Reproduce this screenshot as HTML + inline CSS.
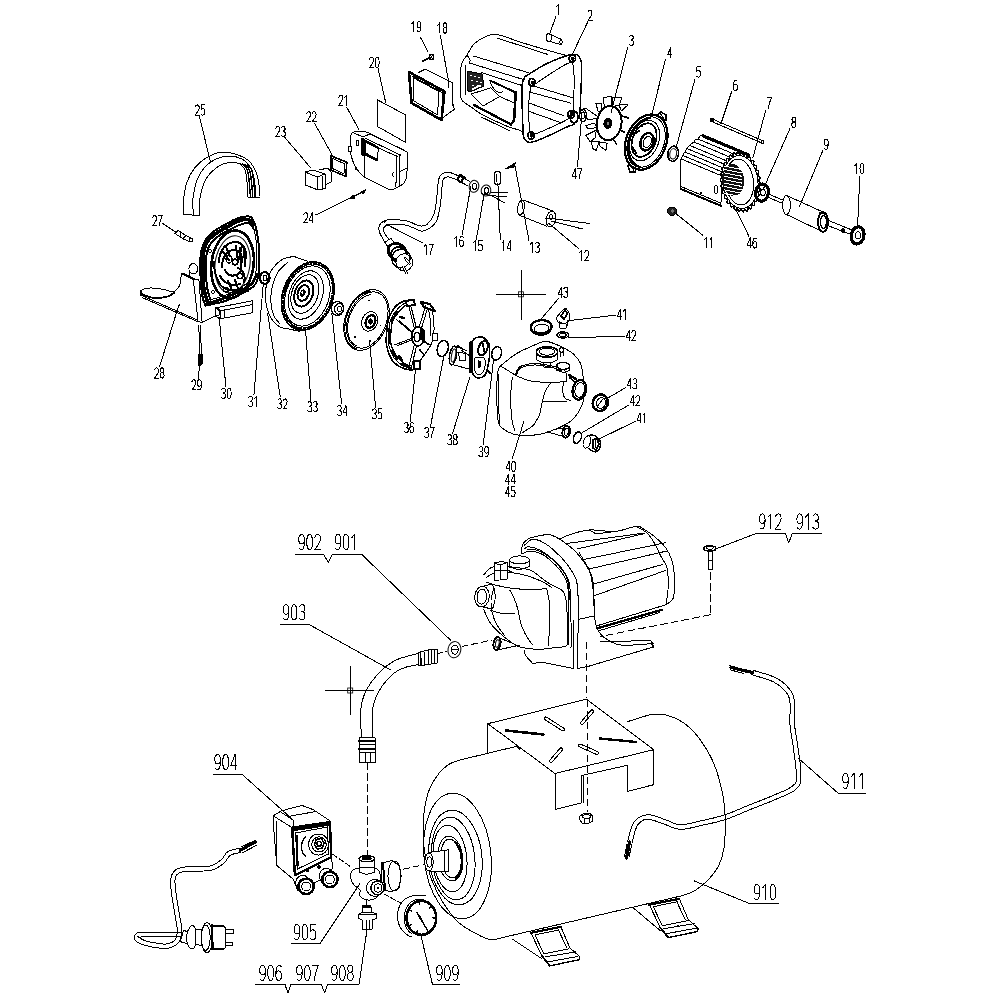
<!DOCTYPE html>
<html><head><meta charset="utf-8"><style>
html,body{margin:0;padding:0;background:#fff;width:1002px;height:1002px;overflow:hidden;font-family:"Liberation Sans",sans-serif;}
svg{display:block}
</style></head><body>
<svg width="1002" height="1002" viewBox="0 0 1002 1002" stroke-linecap="round" shape-rendering="crispEdges">
<rect x="0" y="0" width="1002" height="1002" fill="#fff"/>
<path d="M183.7,214.3 C183.7,211.9 182.9,205.4 183.5,200 C184.1,194.6 185.1,187.4 187,182 C188.9,176.6 191.7,171.8 194.9,167.8 C198.1,163.8 201.5,160.6 206,158 C210.5,155.4 216.6,152.6 221.9,152.1 C227.2,151.6 233.3,153.3 238,155 C242.7,156.7 246.8,158.7 250,162 C253.2,165.3 255.4,170.3 257,175 C258.6,179.7 259.1,186.4 259.6,190 C260.1,193.6 259.9,195.2 260,196.3" fill="none" stroke="#000" stroke-width="1.0" stroke-linejoin="round" />
<path d="M193.4,215.7 C193.3,212.8 192.4,203.9 193,198 C193.6,192.1 195,185.2 197,180 C199,174.8 201.8,170.5 205,167 C208.2,163.5 212,160.8 216,159 C220,157.2 224.7,156 229,156 C233.3,156 238.5,157.2 242,159 C245.5,160.8 247.9,163.5 250,167 C252.1,170.5 253.6,175.2 254.5,180 C255.4,184.8 255.3,193.3 255.5,196" fill="none" stroke="#000" stroke-width="1.0" stroke-linejoin="round" />
<path d="M199.4,215.7 C199.5,212.8 199.2,203.4 200,198 C200.8,192.6 202.3,187 204,183 C205.7,179 207.4,176.6 209.9,173.8 C212.4,171 215.8,167.9 219,166 C222.2,164.1 225.8,163 229.3,162.6 C232.8,162.2 238.1,163.3 239.8,163.4" fill="none" stroke="#000" stroke-width="1.0" stroke-linejoin="round" />
<line x1="183.7" y1="214.3" x2="199.4" y2="215.7" stroke="#000" stroke-width="1.0"/>
<path d="M239.8,163.4 C240.7,164.5 243.8,166.9 245,170 C246.2,173.1 246.5,177.5 247,182 C247.5,186.5 247.8,194.5 248,197" fill="none" stroke="#000" stroke-width="1.0" stroke-linejoin="round" />
<path d="M242.3,163.9 C243.1,164.9 246.1,167 247.2,170 C248.4,173 248.7,177.5 249.2,182 C249.8,186.5 250.2,194.5 250.4,197" fill="none" stroke="#000" stroke-width="1.4" stroke-linejoin="round" />
<path d="M244.8,164.4 C245.6,165.3 248.4,167.1 249.5,170 C250.6,172.9 251,177.5 251.5,182 C252,186.5 252.5,194.5 252.8,197" fill="none" stroke="#000" stroke-width="1.4" stroke-linejoin="round" />
<path d="M247.3,164.9 C248,165.8 250.7,167.2 251.8,170 C252.8,172.8 253.2,177.5 253.8,182 C254.3,186.5 254.9,194.5 255.1,197" fill="none" stroke="#000" stroke-width="1.4" stroke-linejoin="round" />
<line x1="248" y1="197" x2="260" y2="197" stroke="#000" stroke-width="1.0"/>
<polygon points="174.9,233.5 178,230.5 186,235.5 183,238.8" fill="none" stroke="#000" stroke-width="1.0" stroke-linejoin="round"/>
<line x1="180.5" y1="233" x2="180" y2="237" stroke="#000" stroke-width="1.0"/>
<line x1="186" y1="235.5" x2="191.5" y2="238.5" stroke="#000" stroke-width="1.0"/>
<line x1="183" y1="238.8" x2="189.5" y2="241.5" stroke="#000" stroke-width="1.0"/>
<ellipse cx="191" cy="240" rx="1.5" ry="1.8" fill="none" stroke="#000" stroke-width="1.0"/>
<path d="M140.6,291.1 C141.5,290.6 143.5,288.8 146.2,288.3 C148.9,287.8 153.4,288 156.6,288.3 C159.8,288.6 162.5,289.3 165.3,289.9 C168.1,290.5 171.2,292.2 173.3,291.9 C175.4,291.6 176.9,289.6 178.1,288 C179.3,286.4 180,284.7 180.5,282.4 C181,280.1 180.9,275.9 181.3,274.4 C181.7,272.9 182.6,273.7 182.9,273.6" fill="none" stroke="#000" stroke-width="1.0" stroke-linejoin="round" />
<path d="M140.6,293.5 C142.3,294.2 147.9,296.8 151,297.5 C154.1,298.2 156.1,298.1 159,297.9 C161.9,297.7 166,297.2 168.5,296.3 C171,295.4 173.2,293.3 174.1,292.7" fill="none" stroke="#000" stroke-width="1.8" stroke-linejoin="round" />
<line x1="140.6" y1="291.1" x2="140.6" y2="295" stroke="#000" stroke-width="2.0"/>
<line x1="140.6" y1="295.1" x2="197.3" y2="319.9" stroke="#000" stroke-width="1.0"/>
<line x1="142" y1="297.5" x2="197.5" y2="321.5" stroke="#000" stroke-width="1.0"/>
<line x1="182.9" y1="273.6" x2="194.1" y2="279.2" stroke="#000" stroke-width="2.0"/>
<line x1="193.3" y1="279.2" x2="198.1" y2="321.5" stroke="#000" stroke-width="1.0"/>
<line x1="198.9" y1="279.2" x2="202.1" y2="322.3" stroke="#000" stroke-width="1.0"/>
<line x1="194.1" y1="279.2" x2="199" y2="279.2" stroke="#000" stroke-width="1.0"/>
<ellipse cx="193.3" cy="268.8" rx="4.4" ry="5.2" fill="#fff" stroke="#000" stroke-width="1.0"/>
<line x1="189.5" y1="271" x2="190" y2="276" stroke="#000" stroke-width="1.0"/>
<line x1="197.3" y1="321.5" x2="202.1" y2="322.3" stroke="#000" stroke-width="1.0"/>
<line x1="202.1" y1="322.3" x2="215" y2="315.9" stroke="#000" stroke-width="1.0"/>
<ellipse cx="178.9" cy="305.5" rx="0.7" ry="0.9" fill="#000" stroke="#000" stroke-width="0"/>
<path d="M205.6,305.6 C207.2,305.2 211.6,304.3 215,303.5 C218.4,302.7 221.5,302.4 225.9,300.8 C230.3,299.2 236.9,296 241.5,293.6 C246.1,291.2 250.7,289.2 253.5,286.4 C256.3,283.6 257.3,281.5 258.3,276.9 C259.3,272.3 259.5,264.9 259.5,258.9 C259.5,252.9 259,246.5 258.3,240.9 C257.6,235.3 256.4,229.1 255.3,225.4 C254.2,221.7 253.1,220 252,218.5 C250.9,217 251,216.5 248.7,216.4 C246.3,216.3 241.7,216.9 237.9,218.2 C234.1,219.5 229.9,222 225.9,224.2 C221.9,226.4 217.4,228.7 214,231.3 C210.6,233.9 207.7,236.5 205.6,239.7 C203.5,242.9 202.3,246.3 201.4,250.5 C200.5,254.7 200.2,258.5 200.2,264.9 C200.2,271.3 200.9,283.1 201.4,288.8 C201.9,294.5 202.3,296.2 203,299 C203.7,301.8 205.2,304.5 205.6,305.6" fill="#fff" stroke="#000" stroke-width="2.0" stroke-linejoin="round" />
<path d="M207.5,302 C206.9,299.7 204.6,294.2 203.8,288 C203,281.8 202.8,271.2 202.8,265 C202.8,258.8 203,255 203.8,251 C204.6,247 205.8,243.9 207.8,241 C209.8,238.1 212.8,235.8 216,233.5 C219.2,231.2 223.2,229.1 227,227 C230.8,224.9 235,222.2 238.5,221 C242,219.8 245.6,219 248,219.5 C250.4,220 252.2,223.2 253,224" fill="none" stroke="#000" stroke-width="3.6" stroke-linejoin="round" />
<path d="M210.5,300 C209.9,297.8 207.8,292.8 207,287 C206.2,281.2 206,270.8 206,265 C206,259.2 206.2,255.7 207,252 C207.8,248.3 209.1,245.7 211,243 C212.9,240.3 215.5,238.2 218.5,236 C221.5,233.8 225.5,231.8 229,230 C232.5,228.2 236.2,226.2 239.5,225 C242.8,223.8 246.7,222.3 249,223 C251.3,223.7 252.8,228 253.5,229" fill="none" stroke="#000" stroke-width="2.0" stroke-linejoin="round" />
<path d="M207,303.5 C209.5,302.8 216.5,301.1 222,299 C227.5,296.9 235,293.6 240,291 C245,288.4 249.2,286.3 252,283.5 C254.8,280.7 255.8,275.6 256.5,274" fill="none" stroke="#000" stroke-width="2.6" stroke-linejoin="round" />
<path d="M211,299.5 C213.3,298.8 220.2,297.4 225,295.5 C229.8,293.6 235.8,290.4 240,288 C244.2,285.6 248.3,282.2 250,281" fill="none" stroke="#000" stroke-width="1.0" stroke-linejoin="round" />
<path d="M253,224 C253.5,226.7 255.4,234 256,240 C256.6,246 256.9,254 256.8,260 C256.7,266 255.7,273.3 255.5,276" fill="none" stroke="#000" stroke-width="1.0" stroke-linejoin="round" />
<ellipse cx="232.5" cy="264.3" rx="21" ry="34" fill="none" stroke="#000" stroke-width="2.6" transform="rotate(8 232.5 264.3)"/>
<ellipse cx="232.5" cy="264.3" rx="17.4" ry="28.7" fill="none" stroke="#000" stroke-width="1.0" transform="rotate(8 232.5 264.3)"/>
<path d="M219,262 C219,250 226,243 234,242 C242,241 247,249 246,258" fill="none" stroke="#000" stroke-width="2.0" stroke-linejoin="round" />
<path d="M222,267 C222,256 228,250 234,250 C240,250 243,256 242,262" fill="none" stroke="#000" stroke-width="2.0" stroke-linejoin="round" />
<path d="M225,270 C227,276 235,278 240,272" fill="none" stroke="#000" stroke-width="2.0" stroke-linejoin="round" />
<path d="M236,246 L238,262 L242,246" fill="none" stroke="#000" stroke-width="2.0" stroke-linejoin="round" />
<path d="M240,248 L241,268" fill="none" stroke="#000" stroke-width="2.0" stroke-linejoin="round" />
<path d="M244,250 L245,266" fill="none" stroke="#000" stroke-width="2.0" stroke-linejoin="round" />
<path d="M220,276 C224,283 232,287 240,284" fill="none" stroke="#000" stroke-width="2.0" stroke-linejoin="round" />
<path d="M218,281 C222,290 232,293 242,288" fill="none" stroke="#000" stroke-width="2.0" stroke-linejoin="round" />
<path d="M228,281 L232,290 M235,280 L238,288" fill="none" stroke="#000" stroke-width="2.0" stroke-linejoin="round" />
<path d="M223,252 L229,260 M226,247 L230,256" fill="none" stroke="#000" stroke-width="2.0" stroke-linejoin="round" />
<path d="M238,268 C243,270 246,276 244,282" fill="none" stroke="#000" stroke-width="2.0" stroke-linejoin="round" />
<path d="M214,262 C214,270 216,278 220,284" fill="none" stroke="#000" stroke-width="2.0" stroke-linejoin="round" />
<ellipse cx="229" cy="259" rx="3" ry="4" fill="none" stroke="#000" stroke-width="1.4"/>
<ellipse cx="235" cy="262" rx="2.5" ry="3" fill="none" stroke="#000" stroke-width="1.4"/>
<ellipse cx="240" cy="276" rx="3" ry="2.5" fill="none" stroke="#000" stroke-width="1.4"/>
<ellipse cx="226" cy="290" rx="2.6" ry="2" fill="none" stroke="#000" stroke-width="1.4"/>
<ellipse cx="249.5" cy="222.5" rx="1.4" ry="1.6" fill="none" stroke="#000" stroke-width="1.0"/>
<ellipse cx="210" cy="251" rx="1.4" ry="1.6" fill="none" stroke="#000" stroke-width="1.0"/>
<ellipse cx="213" cy="292" rx="1.4" ry="1.6" fill="none" stroke="#000" stroke-width="1.0"/>
<ellipse cx="247.5" cy="290" rx="1.4" ry="1.6" fill="none" stroke="#000" stroke-width="1.0"/>
<ellipse cx="226" cy="228.5" rx="1.4" ry="1.6" fill="none" stroke="#000" stroke-width="1.0"/>
<polygon points="215.1,308 252.3,300.8 252.3,312.8 220,318.8 215.1,316" fill="#fff" stroke="#000" stroke-width="1.0" stroke-linejoin="round"/>
<line x1="215.1" y1="308" x2="220" y2="311" stroke="#000" stroke-width="1.0"/>
<line x1="220" y1="311" x2="220" y2="318.8" stroke="#000" stroke-width="1.0"/>
<line x1="220" y1="311" x2="252.3" y2="304.5" stroke="#000" stroke-width="1.0"/>
<line x1="224.5" y1="310" x2="224.8" y2="318" stroke="#000" stroke-width="1.0"/>
<ellipse cx="217.5" cy="312" rx="2.4" ry="3.5" fill="none" stroke="#000" stroke-width="1.0"/>
<line x1="198.7" y1="325" x2="200" y2="354" stroke="#000" stroke-width="1.0"/>
<line x1="200.2" y1="325" x2="201.5" y2="354" stroke="#000" stroke-width="1.0"/>
<polygon points="198.5,354 202.3,354 202,364 199,366" fill="#000" stroke="#000" stroke-width="1.0" stroke-linejoin="round"/>
<ellipse cx="264.8" cy="278" rx="4.8" ry="6" fill="none" stroke="#000" stroke-width="2.0"/>
<ellipse cx="265" cy="278" rx="2" ry="2.6" fill="none" stroke="#000" stroke-width="1.0"/>
<polyline points="418.7,72.4 425.4,69.1 452.4,82.9 453.1,106.8 454.6,109.1 443.4,117.3" fill="none" stroke="#000" stroke-width="1.0" stroke-linejoin="round"/>
<line x1="448.5" y1="80.5" x2="448.5" y2="87" stroke="#000" stroke-width="1.6"/>
<line x1="452.5" y1="100" x2="452.5" y2="106" stroke="#000" stroke-width="1.0"/>
<polygon points="409,72 444.5,91.5 441.5,120 411.5,103" fill="#fff" stroke="#000" stroke-width="2.6" stroke-linejoin="round"/>
<line x1="411" y1="74" x2="446" y2="93" stroke="#000" stroke-width="1.0"/>
<line x1="412" y1="76" x2="444" y2="93.5" stroke="#000" stroke-width="1.0"/>
<polygon points="413,77.5 439,91.5 437.5,115 414,101" fill="none" stroke="#000" stroke-width="1.0" stroke-linejoin="round"/>
<line x1="443" y1="93" x2="441" y2="119" stroke="#000" stroke-width="1.0"/>
<line x1="422.4" y1="61.2" x2="430" y2="57.5" stroke="#000" stroke-width="1.6"/>
<ellipse cx="431.5" cy="57" rx="2.2" ry="2.6" fill="none" stroke="#000" stroke-width="1.6"/>
<ellipse cx="431.5" cy="57" rx="0.8" ry="1" fill="#000" stroke="#000" stroke-width="0"/>
<polygon points="377.1,99.7 405.6,114.9 405.6,142.4 377.1,126.3" fill="none" stroke="#000" stroke-width="1.0" stroke-linejoin="round"/>
<path d="M351.2,133.6 C352,133.2 353.9,131.5 356,131.2 C358.1,130.9 361.6,131.2 364,131.6 C366.4,132 366.3,131.8 370.3,133.6 C374.3,135.4 382.1,139.6 388,142.5 C393.9,145.4 402.2,149.1 405.5,151.1 C408.8,153.1 407.2,152.4 407.5,154.3 C407.8,156.2 407.2,158.7 407.1,162.3 C407,165.9 407.2,172.4 406.7,175.9 C406.2,179.4 405.7,181.1 403.9,183.1 C402.1,185.1 398.3,186.8 395.9,187.9 C393.5,189 392.8,190.3 389.5,189.5 C386.2,188.7 380.2,185.1 376,183 C371.8,180.9 367.3,179.2 364,176.7 C360.7,174.2 358.1,171.4 356,167.9 C353.9,164.4 352.2,159.9 351.2,155.9 C350.2,151.9 350,147.7 350,144 C350,140.3 351,135.3 351.2,133.6" fill="#fff" stroke="#000" stroke-width="1.0" stroke-linejoin="round" />
<polyline points="353.6,132.8 362.4,136.8 370.3,134" fill="none" stroke="#000" stroke-width="1.0" stroke-linejoin="round"/>
<line x1="365.5" y1="138.4" x2="400.7" y2="155.1" stroke="#000" stroke-width="1.0"/>
<line x1="378.3" y1="147.9" x2="397.5" y2="156.7" stroke="#000" stroke-width="1.0"/>
<line x1="370.3" y1="134" x2="407.1" y2="151.9" stroke="#000" stroke-width="1.0"/>
<line x1="364" y1="139" x2="364" y2="175.9" stroke="#000" stroke-width="1.0"/>
<line x1="362.5" y1="139" x2="362.8" y2="155" stroke="#000" stroke-width="2.8"/>
<polygon points="365.5,140.8 378.3,147.9 377.5,159.9 365.5,155.1" fill="none" stroke="#000" stroke-width="1.0" stroke-linejoin="round"/>
<line x1="366" y1="141.5" x2="377.5" y2="147.5" stroke="#000" stroke-width="2.6" stroke-dasharray="1.2 0.9"/>
<line x1="364.5" y1="153.5" x2="377" y2="160" stroke="#000" stroke-width="2.8" stroke-dasharray="1.3 0.9"/>
<line x1="396.7" y1="155.9" x2="395.9" y2="187.1" stroke="#000" stroke-width="1.0"/>
<line x1="399.1" y1="155.1" x2="399.1" y2="185.5" stroke="#000" stroke-width="1.0"/>
<line x1="399.1" y1="172" x2="406.7" y2="168" stroke="#000" stroke-width="1.0"/>
<polygon points="356,140 358.4,140 358.4,145.5 356,145.5" fill="none" stroke="#000" stroke-width="1.0" stroke-linejoin="round"/>
<polygon points="348.8,146.3 351.2,146.3 351.2,151.9 348.8,151.9" fill="#fff" stroke="#000" stroke-width="1.0" stroke-linejoin="round"/>
<ellipse cx="356" cy="168.7" rx="1.3" ry="1.6" fill="#000" stroke="#000" stroke-width="0"/>
<path d="M394,172.5 C391.5,173 391.5,176 394,176.5" fill="none" stroke="#000" stroke-width="1.0" stroke-linejoin="round" />
<polygon points="330.7,155.7 346.8,162.3 345.8,176.5 330.7,169.9" fill="none" stroke="#000" stroke-width="1.6" stroke-linejoin="round"/>
<polygon points="332.6,158.5 344.5,163.8 344,174 332.5,168.5" fill="none" stroke="#000" stroke-width="1.0" stroke-linejoin="round"/>
<polygon points="305,172 313,170 325,174 325.5,188 318,190 305.5,185" fill="#fff" stroke="#000" stroke-width="1.0" stroke-linejoin="round"/>
<polyline points="305,172 317,177 318,190" fill="none" stroke="#000" stroke-width="1.0" stroke-linejoin="round"/>
<line x1="313" y1="170" x2="325" y2="174" stroke="#000" stroke-width="1.0"/>
<line x1="317" y1="177" x2="325" y2="174" stroke="#000" stroke-width="1.0"/>
<polyline points="319,170 328,168 331,172 331,182 325.5,185" fill="none" stroke="#000" stroke-width="1.0" stroke-linejoin="round"/>
<line x1="322.5" y1="177" x2="322.5" y2="189" stroke="#000" stroke-width="1.6"/>
<polygon points="361,192 366,189.5 363,194" fill="#000" stroke="#000" stroke-width="1.0" stroke-linejoin="round"/>
<polygon points="350,198 354,195 354.5,198.5" fill="#000" stroke="#000" stroke-width="1.0" stroke-linejoin="round"/>
<path d="M387.5,246.1 C387,245.3 386.5,245 384.9,242.2 C383.3,239.4 380.5,235.3 379.4,231.9 C378.3,228.5 378.6,227.5 379.4,225.4 C380.2,223.3 381.2,222.4 383.6,221.2 C386,220 388.3,219.5 391.4,219.2 C394.5,218.9 395.7,219.4 399.2,219.9 C402.7,220.4 405,220.3 408.9,221.5 C412.8,222.7 415.4,224.9 418.6,225.7 C421.8,226.5 422.9,226.2 425.1,225.4 C427.3,224.6 427.9,223.8 429.7,221.5 C431.5,219.2 432.6,218.3 434,214 C435.4,209.7 435.7,205.6 436.5,200 C437.3,194.4 437.2,190.6 437.8,186 C438.4,181.4 438.3,179.6 439.5,177 C440.7,174.4 441.9,173.9 444,173 C446.1,172.1 446.9,171.8 450,172.5 C453.1,173.2 455.7,174.7 459.7,176.5 C463.7,178.3 467.9,180.5 470,181.5" fill="none" stroke="#000" stroke-width="1.0" stroke-linejoin="round" />
<path d="M392.7,242.2 C391.5,241.2 388.7,239.3 386.9,237 C385.1,234.7 384.1,232.6 383.6,230.6 C383.1,228.6 383.1,228.2 384.3,227 C385.5,225.8 385.6,225.2 389.5,224.7 C393.4,224.2 398.5,223.9 403.7,224.7 C408.9,225.5 411.8,227.3 415.4,228.6 C419,229.9 419,231.3 421.9,231.2 C424.8,231.1 426.9,229.8 429.7,228 C432.5,226.2 434,225.6 436,222 C438,218.4 438.4,215.4 439.5,210 C440.6,204.6 440.9,200.6 441.5,195 C442.1,189.4 441.9,185.4 442.5,182 C443.1,178.6 443.2,179 444.5,178 C445.8,177 446.3,176.5 449,177 C451.7,177.5 454.2,178.7 458,180.5 C461.8,182.3 466,184.9 468,186" fill="none" stroke="#000" stroke-width="1.0" stroke-linejoin="round" />
<ellipse cx="384.5" cy="221.5" rx="1.2" ry="1.5" fill="#000" stroke="#000" stroke-width="0"/>
<polygon points="384.9,242.2 390.8,238.3 394,242.2 388,246.5" fill="#fff" stroke="#000" stroke-width="1.0" stroke-linejoin="round"/>
<ellipse cx="397.5" cy="252" rx="9.8" ry="8" fill="#fff" stroke="#000" stroke-width="2.6" transform="rotate(35 397.5 252)"/>
<ellipse cx="399.5" cy="255" rx="8.6" ry="7.8" fill="none" stroke="#000" stroke-width="1.8" stroke-dasharray="1.2 1" transform="rotate(35 399.5 255)"/>
<ellipse cx="404.3" cy="262.4" rx="8.4" ry="8.6" fill="#fff" stroke="#000" stroke-width="1.0"/>
<ellipse cx="401" cy="258.5" rx="9" ry="9.5" fill="none" stroke="#000" stroke-width="1.4" transform="rotate(35 401 258.5)"/>
<line x1="405" y1="258" x2="409.5" y2="263.5" stroke="#000" stroke-width="2.6"/>
<line x1="405" y1="258" x2="409.5" y2="263.5" stroke="#fff" stroke-width="1.0"/>
<line x1="403.5" y1="267" x2="406.5" y2="273" stroke="#000" stroke-width="2.6"/>
<line x1="403.5" y1="267" x2="406.5" y2="273" stroke="#fff" stroke-width="1.0"/>
<ellipse cx="460.5" cy="178.5" rx="2.2" ry="3.4" fill="none" stroke="#000" stroke-width="2.0" transform="rotate(15 460.5 178.5)"/>
<line x1="461" y1="175.5" x2="466" y2="178" stroke="#000" stroke-width="1.4"/>
<line x1="460" y1="181.8" x2="465" y2="184" stroke="#000" stroke-width="1.4"/>
<path d="M568,56 C564.2,54.9 553,51.8 545,49.5 C537,47.2 528,44.5 520,42 C512,39.5 502.7,35.3 496.9,34.5 C491.1,33.7 488.8,35.4 485,37 C481.2,38.6 477,41 474,44 C471,47 469.1,51.6 467,55 C464.9,58.4 462.4,60.4 461.4,64.6 C460.4,68.8 460.9,74.7 460.8,80 C460.7,85.3 460.2,93 460.6,96.5 C461,100 461.3,99.6 463,101.3 C464.7,103 467.9,104.8 471,106.9 C474.1,109 475.7,111 481.3,114.1 C486.9,117.1 498.2,122.5 504.5,125.2 C510.8,127.9 515.7,128.9 518.8,130 C521.9,131.1 522.3,131.7 523,132" fill="none" stroke="#000" stroke-width="1.0" stroke-linejoin="round" />
<line x1="465.4" y1="65.4" x2="465.4" y2="94.1" stroke="#000" stroke-width="1.0"/>
<path d="M467,55 C467.5,55.8 469.6,58.7 470,60 C470.4,61.3 469.5,62.5 469.4,63" fill="none" stroke="#000" stroke-width="1.0" stroke-linejoin="round" />
<line x1="469.4" y1="63" x2="525" y2="80" stroke="#000" stroke-width="1.0"/>
<line x1="473.4" y1="56" x2="531" y2="73.5" stroke="#000" stroke-width="1.0"/>
<line x1="481.3" y1="72.6" x2="522" y2="85.5" stroke="#000" stroke-width="1.0"/>
<line x1="497" y1="38" x2="548" y2="54.5" stroke="#000" stroke-width="1.0"/>
<path d="M524.9,76.7 C528.8,74.4 539.9,66.7 548,63 C556.1,59.3 568.3,54.8 573.8,54.3 C579.2,53.8 579.4,57.4 580.7,60 C582,62.6 581.5,63.3 581.5,70 C581.5,76.7 580.9,92.4 580.5,100 C580.1,107.6 580.5,111.8 579.4,115.8 C578.3,119.8 576.1,122.1 574,124 C571.9,125.9 571.1,125 566.8,127 C562.5,129 554,133.4 548,136 C542,138.6 534.5,142.1 530.5,142.4 C526.5,142.7 525.2,140.1 524,138 C522.8,135.9 523.3,136.3 523,130 C522.7,123.7 522.2,107.5 522,100 C521.8,92.5 521.5,88.9 522,85 C522.5,81.1 524.4,78.1 524.9,76.7" fill="none" stroke="#000" stroke-width="1.5" stroke-linejoin="round" />
<path d="M531,87 C534.2,84.8 543.7,78 550,74 C556.3,70 565.1,64 569,63 C572.9,62 572.7,63.5 573.5,68 C574.3,72.5 574.1,82.7 574,90 C573.9,97.3 574,107.2 573,112 C572,116.8 572.7,116 568,119 C563.3,122 550.8,127.5 545,130 C539.2,132.5 535.6,134.3 533,134 C530.4,133.7 530.2,133.7 529.5,128 C528.8,122.3 528.8,106.8 529,100 C529.2,93.2 530.7,89.2 531,87" fill="none" stroke="#000" stroke-width="1.0" stroke-linejoin="round" />
<line x1="530.5" y1="85" x2="572.4" y2="97.7" stroke="#000" stroke-width="1.0"/>
<line x1="529.5" y1="92" x2="571" y2="103.2" stroke="#000" stroke-width="1.0"/>
<line x1="529.5" y1="103.2" x2="564" y2="115.8" stroke="#000" stroke-width="1.0"/>
<line x1="529.5" y1="111.6" x2="561.2" y2="122.8" stroke="#000" stroke-width="1.0"/>
<path d="M467,71 L482,74 L484,86 L470,92 L467,90 Z" fill="#222" stroke="#000" stroke-width="1"/>
<rect x="470" y="75" width="1.6" height="1.4" fill="#fff"/>
<rect x="474" y="76" width="1.6" height="1.4" fill="#fff"/>
<rect x="478" y="77" width="1.6" height="1.4" fill="#fff"/>
<rect x="471" y="80" width="1.6" height="1.4" fill="#fff"/>
<rect x="476" y="81" width="1.6" height="1.4" fill="#fff"/>
<rect x="472" y="85" width="1.6" height="1.4" fill="#fff"/>
<rect x="477" y="84.5" width="1.6" height="1.4" fill="#fff"/>
<rect x="480" y="82" width="1.6" height="1.4" fill="#fff"/>
<path d="M472.5,89.5 C473.1,89.2 474.8,88.1 476,87.5 C477.2,86.9 479.3,86.2 480,86" fill="none" stroke="#fff" stroke-width="1.8" stroke-linejoin="round" />
<polyline points="490.1,80.5 515.7,92.5 514.1,120.4 510.9,124.4 473.4,104.5" fill="none" stroke="#000" stroke-width="1.0" stroke-linejoin="round"/>
<line x1="515.7" y1="92.5" x2="514.1" y2="120.4" stroke="#000" stroke-width="2.6"/>
<line x1="514.1" y1="120.4" x2="510.9" y2="124.4" stroke="#000" stroke-width="2.6"/>
<line x1="510.9" y1="124.4" x2="474" y2="105" stroke="#000" stroke-width="2.4"/>
<line x1="490.1" y1="80.5" x2="515.7" y2="92.5" stroke="#000" stroke-width="2.0"/>
<polygon points="471,94.1 490.9,87.7 499.7,96.5 482.9,106.1" fill="none" stroke="#000" stroke-width="1.0" stroke-linejoin="round"/>
<path d="M490,82 C490.7,83.2 492.3,87.2 494,89 C495.7,90.8 498.5,92.7 500,93 C501.5,93.3 502.5,91.3 503,91" fill="none" stroke="#000" stroke-width="1.0" stroke-linejoin="round" />
<line x1="499.7" y1="96.5" x2="514" y2="103" stroke="#000" stroke-width="1.0"/>
<line x1="481.3" y1="117" x2="510" y2="131" stroke="#000" stroke-width="1.0"/>
<ellipse cx="572.4" cy="58.5" rx="3.2" ry="3.8" fill="none" stroke="#000" stroke-width="1.8"/>
<ellipse cx="572.9" cy="58.8" rx="1.3" ry="1.6" fill="#000" stroke="#000" stroke-width="1.0"/>
<ellipse cx="531.8" cy="82.3" rx="3.2" ry="3.8" fill="none" stroke="#000" stroke-width="1.8"/>
<ellipse cx="532.3" cy="82.6" rx="1.3" ry="1.6" fill="#000" stroke="#000" stroke-width="1.0"/>
<ellipse cx="571" cy="114.4" rx="3.2" ry="3.8" fill="none" stroke="#000" stroke-width="1.8"/>
<ellipse cx="571.5" cy="114.7" rx="1.3" ry="1.6" fill="#000" stroke="#000" stroke-width="1.0"/>
<ellipse cx="531.2" cy="135.4" rx="3.2" ry="3.8" fill="none" stroke="#000" stroke-width="1.8"/>
<ellipse cx="531.7" cy="135.7" rx="1.3" ry="1.6" fill="#000" stroke="#000" stroke-width="1.0"/>
<ellipse cx="574" cy="117" rx="4" ry="6" fill="none" stroke="#000" stroke-width="1.6"/>
<ellipse cx="548.8" cy="37.5" rx="2.6" ry="3.8" fill="none" stroke="#000" stroke-width="1.0"/>
<line x1="549.5" y1="34" x2="561.5" y2="39.5" stroke="#000" stroke-width="1.0"/>
<line x1="549" y1="41.2" x2="560.5" y2="44.5" stroke="#000" stroke-width="1.0"/>
<ellipse cx="561" cy="42" rx="1.2" ry="2.3" fill="none" stroke="#000" stroke-width="1.0"/>
<polygon points="603.3,97.4 611.1,96.5 611.5,105.8 604.6,108.8" fill="#fff" stroke="#000" stroke-width="1.0" stroke-linejoin="round"/>
<polygon points="612,97 621.5,97.8 619.4,105.6 612.6,106.2" fill="#fff" stroke="#000" stroke-width="1.0" stroke-linejoin="round"/>
<polygon points="618.9,104.9 628,104.9 621.5,110.8" fill="#fff" stroke="#000" stroke-width="1.0" stroke-linejoin="round"/>
<polygon points="595.6,103 601.4,103 601.4,112.7 598.2,111.4" fill="#fff" stroke="#000" stroke-width="1.0" stroke-linejoin="round"/>
<polygon points="582,109.5 585.8,108.2 599.5,117.9 587.8,119.8" fill="#fff" stroke="#000" stroke-width="1.0" stroke-linejoin="round"/>
<polygon points="585.8,125.7 594.3,123.1 596.9,127.6 587.8,128.9" fill="#fff" stroke="#000" stroke-width="1.0" stroke-linejoin="round"/>
<polygon points="585.8,135.4 596.2,130.2 595.6,137.3 590.4,141.9" fill="#fff" stroke="#000" stroke-width="1.0" stroke-linejoin="round"/>
<polygon points="591.7,141.9 599.5,141.2 596.2,150.3 592.3,148.4" fill="#fff" stroke="#000" stroke-width="1.0" stroke-linejoin="round"/>
<polygon points="599.5,141.9 607.2,143.2 605.9,150.3 600.1,146.4" fill="#fff" stroke="#000" stroke-width="1.0" stroke-linejoin="round"/>
<line x1="621.5" y1="116" x2="628.6" y2="117.9" stroke="#000" stroke-width="1.8"/>
<line x1="620.2" y1="130.2" x2="624.7" y2="132.2" stroke="#000" stroke-width="1.6"/>
<line x1="612.4" y1="138" x2="616.3" y2="143.8" stroke="#000" stroke-width="1.5"/>
<ellipse cx="609.2" cy="123.1" rx="12.3" ry="17.2" fill="#fff" stroke="#000" stroke-width="2.0" transform="rotate(8 609.2 123.1)"/>
<ellipse cx="607.9" cy="123.4" rx="4.5" ry="5.5" fill="#000" stroke="#000" stroke-width="0" transform="rotate(8 607.9 123.4)"/>
<ellipse cx="608.2" cy="123.4" rx="1.3" ry="1.6" fill="#888" stroke="#000" stroke-width="0"/>
<polygon points="657,115 661,112 666,115 666,120 661,121" fill="#fff" stroke="#000" stroke-width="1.6" stroke-linejoin="round"/>
<line x1="660" y1="113" x2="664" y2="119" stroke="#000" stroke-width="1.0"/>
<polygon points="628,166 632,163.5 636.7,166 635,172.2 630,172" fill="#fff" stroke="#000" stroke-width="1.6" stroke-linejoin="round"/>
<line x1="631" y1="165" x2="634" y2="171" stroke="#000" stroke-width="1.0"/>
<ellipse cx="646.1" cy="142.1" rx="20" ry="28.6" fill="#fff" stroke="#000" stroke-width="2.2" transform="rotate(22 646.1 142.1)"/>
<ellipse cx="646.1" cy="142.1" rx="17.8" ry="26.2" fill="none" stroke="#000" stroke-width="1.0" transform="rotate(22 646.1 142.1)"/>
<path d="M650,118 C638,120 629,132 628.5,146 C628,158 633,165 640,167" fill="none" stroke="#000" stroke-width="2.4" stroke-dasharray="1.4 1"/>
<ellipse cx="644.6" cy="140.6" rx="14" ry="21" fill="none" stroke="#000" stroke-width="1.0" transform="rotate(22 644.6 140.6)"/>
<ellipse cx="644.1" cy="140.1" rx="11.5" ry="17.5" fill="none" stroke="#000" stroke-width="1.8" transform="rotate(22 644.1 140.1)"/>
<ellipse cx="647" cy="141.7" rx="6.3" ry="9" fill="none" stroke="#000" stroke-width="2.4" transform="rotate(22 647 141.7)"/>
<ellipse cx="647.3" cy="141.9" rx="3.8" ry="5.8" fill="none" stroke="#000" stroke-width="1.0" transform="rotate(22 647.3 141.9)"/>
<line x1="634" y1="134" x2="639" y2="131" stroke="#000" stroke-width="2.0"/>
<line x1="633" y1="148" x2="636" y2="153" stroke="#000" stroke-width="2.0"/>
<line x1="637" y1="128" x2="642" y2="126" stroke="#000" stroke-width="1.6"/>
<line x1="703" y1="135.5" x2="749" y2="154.8" stroke="#000" stroke-width="2.6"/>
<line x1="698" y1="139" x2="744" y2="158.3" stroke="#000" stroke-width="1.0"/>
<line x1="694" y1="142" x2="734" y2="158.8" stroke="#000" stroke-width="1.0"/>
<line x1="690" y1="145.5" x2="730" y2="162.3" stroke="#000" stroke-width="1.0"/>
<line x1="687" y1="148.5" x2="727" y2="165.3" stroke="#000" stroke-width="1.0"/>
<line x1="685" y1="152" x2="725" y2="168.8" stroke="#000" stroke-width="1.0"/>
<line x1="683" y1="155.5" x2="723" y2="172.3" stroke="#000" stroke-width="1.0"/>
<line x1="703" y1="136.5" x2="749" y2="155.5" stroke="#000" stroke-width="2.2" stroke-dasharray="1.5 0.8"/>
<polyline points="703,135.5 700,136 698,139 695,140 694,142 690,144.5 690,145.5 687,147.5 687,148.5 685,151 685,152 683,154 683,155.5 681,158.9" fill="none" stroke="#000" stroke-width="1.0" stroke-linejoin="round"/>
<polygon points="681,158.9 721.9,175.9 720.9,205.8 680.5,188.9" fill="#fff" stroke="#000" stroke-width="1.0" stroke-linejoin="round"/>
<line x1="680.5" y1="188.9" x2="720.9" y2="205.8" stroke="#000" stroke-width="2.0"/>
<line x1="681" y1="186.5" x2="720.9" y2="203.2" stroke="#000" stroke-width="1.0"/>
<path d="M759,182 L759,183.5 L760.2,185.1 L760.1,186.7 L758.6,187.8 L758.4,189.2 L759.3,191.3 L759,192.7 L757.4,193.4 L757,194.7 L757.6,197 L757.1,198.3 L755.5,198.5 L754.9,199.6 L755.2,202 L754.5,203.2 L752.9,202.8 L752.1,203.8 L752.1,206.2 L751.3,207.1 L749.8,206.2 L748.9,206.9 L748.6,209.4 L747.6,210 L746.2,208.6 L745.3,209 L744.6,211.3 L743.6,211.6 L742.4,209.8 L741.5,210 L740.5,212 L739.5,211.9 L738.6,209.8 L737.6,209.7 L736.4,211.3 L735.4,210.9 L734.8,208.6 L733.9,208.1 L732.4,209.4 L731.5,208.7 L731.2,206.2 L730.4,205.5 L728.9,206.2 L728,205.3 L728.1,202.8 L727.4,201.8 L725.8,202 L725.1,200.9 L725.5,198.5 L725,197.2 L723.4,197 L722.9,195.6 L723.6,193.4 L723.2,192 L721.7,191.3 L721.4,189.8 L722.4,187.8 L722.2,186.4 L720.8,185.1 L720.7,183.6 L722,182 L722,180.5 L720.8,178.9 L720.9,177.3 L722.4,176.2 L722.6,174.8 L721.7,172.7 L722,171.3 L723.6,170.6 L724,169.3 L723.4,167 L723.9,165.7 L725.5,165.5 L726.1,164.4 L725.8,162 L726.5,160.8 L728.1,161.2 L728.9,160.2 L728.9,157.8 L729.7,156.9 L731.2,157.8 L732.1,157.1 L732.4,154.6 L733.4,154 L734.8,155.4 L735.7,155 L736.4,152.7 L737.4,152.4 L738.6,154.2 L739.5,154 L740.5,152 L741.5,152.1 L742.4,154.2 L743.4,154.3 L744.6,152.7 L745.6,153.1 L746.2,155.4 L747.1,155.9 L748.6,154.6 L749.5,155.3 L749.8,157.8 L750.6,158.5 L752.1,157.8 L753,158.7 L752.9,161.2 L753.6,162.2 L755.2,162 L755.9,163.1 L755.5,165.5 L756,166.8 L757.6,167 L758.1,168.4 L757.4,170.6 L757.8,172 L759.3,172.7 L759.6,174.2 L758.6,176.2 L758.8,177.6 L760.2,178.9 L760.3,180.4 Z" fill="#fff" stroke="#000" stroke-width="1.4" stroke-linejoin="round" transform="rotate(-6 740.5 182)"/>
<ellipse cx="740.5" cy="182" rx="17.5" ry="26.5" fill="none" stroke="#000" stroke-width="1.0" transform="rotate(-6 740.5 182)"/>
<ellipse cx="739.5" cy="182" rx="14" ry="23" fill="none" stroke="#000" stroke-width="1.0" transform="rotate(-6 739.5 182)"/>
<ellipse cx="733" cy="180" rx="11" ry="16" fill="#111" stroke="#000" stroke-width="0" transform="rotate(-6 733 180)"/>
<line x1="724" y1="166" x2="742" y2="169.5" stroke="#fff" stroke-width="1.0"/>
<line x1="724" y1="169.4" x2="742" y2="172.9" stroke="#fff" stroke-width="1.0"/>
<line x1="724" y1="172.8" x2="742" y2="176.3" stroke="#fff" stroke-width="1.0"/>
<line x1="724" y1="176.2" x2="742" y2="179.7" stroke="#fff" stroke-width="1.0"/>
<line x1="724" y1="179.6" x2="742" y2="183.1" stroke="#fff" stroke-width="1.0"/>
<line x1="724" y1="183" x2="742" y2="186.5" stroke="#fff" stroke-width="1.0"/>
<line x1="724" y1="186.4" x2="742" y2="189.9" stroke="#fff" stroke-width="1.0"/>
<line x1="724" y1="189.8" x2="742" y2="193.3" stroke="#fff" stroke-width="1.0"/>
<line x1="724" y1="193.2" x2="742" y2="196.7" stroke="#fff" stroke-width="1.0"/>
<path d="M0.5,0 C0.1,0 0,0.3 0,0.5 C0,0.7 0.1,1 0.5,1 C0.9,1 1,0.7 1,0.5 C1,0.3 0.9,0 0.5,0 Z" transform="translate(714.4 185.4) scale(3.3 8)" fill="none" stroke="#000" stroke-width="1.0" vector-effect="non-scaling-stroke" stroke-linecap="round" stroke-linejoin="round"/>
<rect x="700.3" y="191.5" width="1.3" height="2.6" fill="#000"/>
<ellipse cx="583" cy="115.4" rx="3.4" ry="6.2" fill="none" stroke="#000" stroke-width="1.5"/>
<ellipse cx="583" cy="115.4" rx="1.6" ry="3.4" fill="none" stroke="#000" stroke-width="1.0"/>
<ellipse cx="673.2" cy="153.8" rx="5.4" ry="7.6" fill="none" stroke="#000" stroke-width="1.6" transform="rotate(10 673.2 153.8)"/>
<ellipse cx="673.2" cy="153.8" rx="3.4" ry="5.2" fill="none" stroke="#000" stroke-width="1.0" transform="rotate(10 673.2 153.8)"/>
<line x1="711.9" y1="118.8" x2="762.8" y2="140.7" stroke="#000" stroke-width="1.0"/>
<line x1="711.3" y1="121.3" x2="762.2" y2="143.2" stroke="#000" stroke-width="1.0"/>
<ellipse cx="712" cy="120" rx="1.6" ry="1.9" fill="#000" stroke="#000" stroke-width="1.0"/>
<ellipse cx="762.5" cy="142" rx="1.2" ry="1.6" fill="none" stroke="#000" stroke-width="1.0"/>
<ellipse cx="762" cy="192.6" rx="6.4" ry="8.6" fill="none" stroke="#000" stroke-width="3.2" transform="rotate(10 762 192.6)"/>
<ellipse cx="763" cy="192.6" rx="2.3" ry="3.2" fill="#fff" stroke="#000" stroke-width="1.0"/>
<ellipse cx="857.6" cy="235.4" rx="6.4" ry="8.6" fill="none" stroke="#000" stroke-width="3.2" transform="rotate(10 857.6 235.4)"/>
<ellipse cx="858" cy="235.4" rx="2.6" ry="3.5" fill="#fff" stroke="#000" stroke-width="1.0"/>
<ellipse cx="672" cy="211.2" rx="4.4" ry="4.2" fill="#222" stroke="#000" stroke-width="1.0"/>
<ellipse cx="672.5" cy="211" rx="1.8" ry="1.7" fill="#777" stroke="#000" stroke-width="0"/>
<line x1="767" y1="193.5" x2="784" y2="200.5" stroke="#000" stroke-width="1.0"/>
<line x1="766" y1="196.5" x2="783" y2="203.5" stroke="#000" stroke-width="1.0"/>
<ellipse cx="786.5" cy="205" rx="4" ry="9.5" fill="none" stroke="#000" stroke-width="1.0"/>
<line x1="786.5" y1="195.5" x2="823" y2="212" stroke="#000" stroke-width="1.0"/>
<line x1="786.5" y1="214.5" x2="822" y2="231.5" stroke="#000" stroke-width="1.0"/>
<ellipse cx="823" cy="222" rx="5" ry="9.8" fill="none" stroke="#000" stroke-width="1.8"/>
<ellipse cx="823.5" cy="222" rx="3" ry="6.5" fill="none" stroke="#000" stroke-width="1.4"/>
<line x1="819" y1="212.5" x2="827" y2="215" stroke="#000" stroke-width="1.0"/>
<line x1="826" y1="219.5" x2="852" y2="230" stroke="#000" stroke-width="1.0"/>
<line x1="825" y1="224.5" x2="851" y2="234.5" stroke="#000" stroke-width="1.0"/>
<ellipse cx="843" cy="230.5" rx="1.3" ry="2.5" fill="#000" stroke="#000" stroke-width="1.0"/>
<ellipse cx="521" cy="207.5" rx="3.3" ry="7.6" fill="none" stroke="#000" stroke-width="1.0" transform="rotate(12 521 207.5)"/>
<line x1="523" y1="200" x2="553" y2="211" stroke="#000" stroke-width="1.0"/>
<line x1="519.5" y1="215.3" x2="547" y2="226.3" stroke="#000" stroke-width="1.0"/>
<ellipse cx="551" cy="219" rx="4.8" ry="7.8" fill="none" stroke="#000" stroke-width="1.0" transform="rotate(12 551 219)"/>
<ellipse cx="551" cy="217" rx="1.2" ry="2.5" fill="none" stroke="#000" stroke-width="1.0"/>
<line x1="551" y1="218.5" x2="589.7" y2="223.5" stroke="#000" stroke-width="1.0"/>
<line x1="551" y1="221" x2="582.5" y2="229" stroke="#000" stroke-width="1.0"/>
<line x1="545" y1="218" x2="552" y2="219" stroke="#000" stroke-width="1.0"/>
<polygon points="505.9,168.5 515.5,162.8 514,167" fill="#000" stroke="#000" stroke-width="1.0" stroke-linejoin="round"/>
<rect x="494.7" y="171.6" width="5.6" height="12.7" rx="1.5" fill="none" stroke="#000" stroke-width="1.3"/>
<line x1="496.3" y1="174" x2="496.3" y2="182" stroke="#000" stroke-width="1.0"/>
<ellipse cx="486" cy="190.5" rx="4.8" ry="5.5" fill="none" stroke="#000" stroke-width="1.0" transform="rotate(10 486 190.5)"/>
<ellipse cx="486.5" cy="190.5" rx="2.2" ry="2.8" fill="none" stroke="#000" stroke-width="1.0"/>
<ellipse cx="474" cy="186.3" rx="4.8" ry="6" fill="none" stroke="#000" stroke-width="1.0" transform="rotate(10 474 186.3)"/>
<ellipse cx="474.5" cy="186.3" rx="2.2" ry="3" fill="none" stroke="#000" stroke-width="1.0"/>
<line x1="491" y1="193" x2="507.5" y2="192.3" stroke="#000" stroke-width="1.0"/>
<line x1="491" y1="195.5" x2="507" y2="197" stroke="#000" stroke-width="1.0"/>
<line x1="492" y1="196" x2="505" y2="203" stroke="#000" stroke-width="1.0"/>
<line x1="481" y1="193.5" x2="492" y2="196" stroke="#000" stroke-width="1.0"/>
<path d="M294,256.5 C292.2,256.9 286.5,257.1 283,259 C279.5,260.9 275.7,264.2 273,268 C270.3,271.8 268.2,277.3 267,282 C265.8,286.7 265.4,291.3 265.5,296 C265.6,300.7 266.2,305.8 267.5,310 C268.8,314.2 270.8,318.1 273,321 C275.2,323.9 278.3,326.2 281,327.5 C283.7,328.8 287.7,328.8 289,329" fill="none" stroke="#000" stroke-width="1.0" stroke-linejoin="round" />
<path d="M288,262 C286.3,263.7 280.7,267.7 278,272 C275.3,276.3 273.2,282.8 272,288 C270.8,293.2 270.7,298.3 271,303 C271.3,307.7 272.5,312.5 274,316 C275.5,319.5 279,322.7 280,324" fill="none" stroke="#000" stroke-width="1.0" stroke-linejoin="round" />
<line x1="294" y1="256.5" x2="308" y2="261.5" stroke="#000" stroke-width="1.0"/>
<line x1="289" y1="329" x2="300" y2="331.5" stroke="#000" stroke-width="1.0"/>
<ellipse cx="307.8" cy="296" rx="25" ry="35" fill="#fff" stroke="#000" stroke-width="1.8" transform="rotate(20 307.8 296)"/>
<ellipse cx="307.8" cy="296" rx="23.3" ry="33.1" fill="none" stroke="#000" stroke-width="1.6" stroke-dasharray="1 1.6" transform="rotate(20 307.8 296)"/>
<ellipse cx="307.3" cy="296" rx="21.5" ry="31" fill="none" stroke="#000" stroke-width="1.0" transform="rotate(20 307.3 296)"/>
<ellipse cx="305.8" cy="295" rx="16.5" ry="25" fill="none" stroke="#000" stroke-width="1.0" transform="rotate(20 305.8 295)"/>
<ellipse cx="304.8" cy="294" rx="13" ry="20" fill="none" stroke="#000" stroke-width="1.0" transform="rotate(20 304.8 294)"/>
<ellipse cx="303.8" cy="293.5" rx="9" ry="13.5" fill="none" stroke="#000" stroke-width="2.0" transform="rotate(20 303.8 293.5)"/>
<ellipse cx="303.3" cy="293" rx="5.5" ry="8" fill="none" stroke="#000" stroke-width="2.0" transform="rotate(20 303.3 293)"/>
<ellipse cx="302.8" cy="293" rx="2.6" ry="3.8" fill="#000" stroke="#000" stroke-width="0" transform="rotate(20 302.8 293)"/>
<ellipse cx="302.3" cy="292.5" rx="1" ry="1.4" fill="#fff" stroke="#000" stroke-width="0"/>
<ellipse cx="366.5" cy="320" rx="21" ry="31.5" fill="#fff" stroke="#000" stroke-width="1.0" transform="rotate(22 366.5 320)"/>
<ellipse cx="367.3" cy="320" rx="19" ry="29.3" fill="none" stroke="#000" stroke-width="1.0" transform="rotate(22 367.3 320)"/>
<path d="M370,291.5 C358,293 349,305 345.5,320 C343,334 346,345 356,349" fill="none" stroke="#000" stroke-width="1.6" stroke-dasharray="1 1.6"/>
<path d="M371,294.5 C360,296 352,307 348.5,320 C346,333 349,343 357,346" fill="none" stroke="#000" stroke-width="1"/>
<ellipse cx="369.7" cy="321.4" rx="7.8" ry="10" fill="none" stroke="#000" stroke-width="1.0" transform="rotate(22 369.7 321.4)"/>
<ellipse cx="370.5" cy="321.5" rx="4.6" ry="6.5" fill="none" stroke="#000" stroke-width="2.4" transform="rotate(22 370.5 321.5)"/>
<ellipse cx="370.5" cy="321.5" rx="1.8" ry="2.6" fill="#000" stroke="#000" stroke-width="1.0"/>
<ellipse cx="369" cy="300.5" rx="0.8" ry="0.8" fill="#000" stroke="#000" stroke-width="0"/>
<ellipse cx="380.4" cy="325.4" rx="0.8" ry="0.8" fill="#000" stroke="#000" stroke-width="0"/>
<ellipse cx="355" cy="336.9" rx="0.8" ry="0.8" fill="#000" stroke="#000" stroke-width="0"/>
<ellipse cx="370" cy="340.9" rx="0.8" ry="0.8" fill="#000" stroke="#000" stroke-width="0"/>
<ellipse cx="337.5" cy="308.5" rx="6.2" ry="7" fill="#fff" stroke="#000" stroke-width="1.4" transform="rotate(10 337.5 308.5)"/>
<ellipse cx="339" cy="308.8" rx="4.5" ry="5.5" fill="none" stroke="#000" stroke-width="1.4" transform="rotate(10 339 308.8)"/>
<ellipse cx="339.5" cy="309" rx="2" ry="2.8" fill="none" stroke="#000" stroke-width="1.0"/>
<line x1="331" y1="304" x2="336" y2="302" stroke="#000" stroke-width="1.0"/>
<path d="M405,300.5 C403.5,301.4 398.6,303.1 395.9,306 C393.2,308.9 390.5,314 389,318 C387.5,322 387.3,325.4 386.9,329.9 C386.5,334.4 385.7,339.9 386.5,344.9 C387.3,349.9 389.7,356.2 391.9,359.9 C394.1,363.5 396.9,365.1 399.9,366.8 C402.9,368.5 406.9,369.5 409.9,369.8 C412.9,370.1 416.5,369 417.8,368.8" fill="none" stroke="#000" stroke-width="1.6" stroke-linejoin="round" />
<path d="M406,305 C405,306 402.1,308.4 399.9,310.9 C397.7,313.4 394.5,316.5 393,320 C391.5,323.5 391.2,328 390.9,332 C390.5,336 390.1,340.2 390.9,344 C391.7,347.8 393.6,351.6 395.9,354.9 C398.2,358.2 402.2,361.9 404.9,363.8 C407.6,365.7 410.8,365.6 412,366" fill="none" stroke="#000" stroke-width="1.4" stroke-linejoin="round" />
<path d="M405,303 C403.8,303.9 400.3,305.8 398,308.5 C395.7,311.2 392.5,315.2 391,319 C389.5,322.8 389.2,326.8 388.8,331 C388.4,335.2 387.9,340.1 388.7,344.5 C389.5,348.9 391.5,354 393.8,357.5 C396.1,361 399.5,363.6 402.4,365.3 C405.3,367.1 409.6,367.6 411,368" fill="none" stroke="#000" stroke-width="1.0" stroke-linejoin="round" />
<line x1="397" y1="312" x2="392" y2="321" stroke="#000" stroke-width="2.6"/>
<line x1="389" y1="329" x2="389" y2="343" stroke="#000" stroke-width="2.6"/>
<line x1="392" y1="351" x2="397" y2="359" stroke="#000" stroke-width="2.6"/>
<line x1="401" y1="364" x2="410" y2="368" stroke="#000" stroke-width="2.6"/>
<path d="M429.8,304 C430.2,305 431.3,307 432,310 C432.7,313 433.5,317.9 433.8,322 C434.1,326.1 434.2,331.4 433.8,334.9 C433.4,338.4 432.2,341 431.5,343 C430.8,345 431.2,344.6 429.8,346.9 C428.4,349.2 424.8,353.9 422.8,356.9 C420.8,359.9 418.6,363.5 417.8,364.8" fill="none" stroke="#000" stroke-width="1.0" stroke-linejoin="round" />
<path d="M426,304 C426.5,305.3 428.2,308.7 429,312 C429.8,315.3 430.3,320 430.5,324 C430.7,328 430.1,334 430,336" fill="none" stroke="#000" stroke-width="1.0" stroke-linejoin="round" />
<polygon points="405.9,301 413.9,299.5 414.8,305 406.9,306" fill="#fff" stroke="#000" stroke-width="2.0" stroke-linejoin="round"/>
<polygon points="420.8,302 429.8,304 434.8,311 423.8,307" fill="#fff" stroke="#000" stroke-width="2.2" stroke-linejoin="round"/>
<polygon points="432.8,333 437.8,333.5 437.8,341 432.8,340.9" fill="#fff" stroke="#000" stroke-width="1.0" stroke-linejoin="round"/>
<polygon points="413.9,360.8 419.8,361 419.8,368.8 413.9,368.5" fill="#fff" stroke="#000" stroke-width="2.0" stroke-linejoin="round"/>
<line x1="416.3" y1="336.5" x2="408.7" y2="306" stroke="#000" stroke-width="1.0"/>
<line x1="418.7" y1="337.3" x2="411.1" y2="306.8" stroke="#000" stroke-width="1.0"/>
<line x1="416.3" y1="336.5" x2="425.6" y2="306" stroke="#000" stroke-width="1.0"/>
<line x1="418.7" y1="337.3" x2="428" y2="306.8" stroke="#000" stroke-width="1.0"/>
<line x1="416.3" y1="336.5" x2="396.7" y2="319.9" stroke="#000" stroke-width="1.0"/>
<line x1="418.7" y1="337.3" x2="399.1" y2="320.7" stroke="#000" stroke-width="1.0"/>
<line x1="416.3" y1="336.5" x2="394.7" y2="344.9" stroke="#000" stroke-width="1.0"/>
<line x1="418.7" y1="337.3" x2="397.1" y2="345.7" stroke="#000" stroke-width="1.0"/>
<line x1="416.3" y1="336.5" x2="408.7" y2="367.8" stroke="#000" stroke-width="1.0"/>
<line x1="418.7" y1="337.3" x2="411.1" y2="368.6" stroke="#000" stroke-width="1.0"/>
<line x1="416.3" y1="336.5" x2="428.6" y2="344.9" stroke="#000" stroke-width="1.0"/>
<line x1="418.7" y1="337.3" x2="431" y2="345.7" stroke="#000" stroke-width="1.0"/>
<ellipse cx="418" cy="336.5" rx="6.2" ry="9.5" fill="#fff" stroke="#000" stroke-width="1.6"/>
<path d="M420,327.5 L424,329.5 L424,341 L420,339 Z" fill="#000" stroke="#000" stroke-width="1.0" stroke-linejoin="round" />
<ellipse cx="417" cy="337" rx="2.8" ry="4.5" fill="none" stroke="#000" stroke-width="1.6"/>
<line x1="400" y1="317" x2="404" y2="318" stroke="#000" stroke-width="2.4"/>
<line x1="399" y1="356" x2="402" y2="360" stroke="#000" stroke-width="2.2"/>
<line x1="420" y1="350" x2="424" y2="355" stroke="#000" stroke-width="1.6"/>
<ellipse cx="442.8" cy="348.5" rx="5.4" ry="8.2" fill="none" stroke="#000" stroke-width="1.6" transform="rotate(15 442.8 348.5)"/>
<ellipse cx="496.6" cy="353.4" rx="4.8" ry="6.8" fill="none" stroke="#000" stroke-width="1.5" transform="rotate(15 496.6 353.4)"/>
<path d="M500.4,365.9 C503,363.9 511,357.1 515.9,354 C520.8,350.9 525.6,349 530,347 C534.4,345 539,342.8 542.3,342 C545.5,341.2 545.9,341 549.5,342 C553.1,343 559.8,346 563.8,348 C567.8,350 570.6,351.4 573.4,354 C576.2,356.6 579,359.9 580.6,363.5 C582.2,367.1 582.4,371.1 583,375.5 C583.6,379.9 584.2,385.5 584.2,389.9 C584.2,394.3 584,398.1 583,401.9 C582,405.7 580.2,409.4 578.2,412.6 C576.2,415.8 574.4,418.4 571,421 C567.6,423.6 563,426 557.8,428.2 C552.6,430.4 546.3,433 539.9,434.2 C533.5,435.4 525.5,436.2 519.5,435.4 C513.5,434.6 507.6,432 504,429.4 C500.4,426.8 499.2,426.4 498,419.8 C496.8,413.2 496.8,398.1 496.8,389.9 C496.8,381.7 497.4,374.7 498,370.7 C498.6,366.7 500,366.7 500.4,365.9" fill="#fff" stroke="#000" stroke-width="1.0" stroke-linejoin="round" />
<line x1="500.4" y1="365.9" x2="515.9" y2="375.5" stroke="#000" stroke-width="1.0"/>
<path d="M515.9,375.5 C517.9,376.3 523.9,379.2 527.9,380.3 C531.9,381.4 536.2,381.6 540,382 C543.8,382.4 546.3,382.8 550.7,382.7 C555.1,382.6 563.6,381.7 566.2,381.5" fill="none" stroke="#000" stroke-width="1.0" stroke-linejoin="round" />
<path d="M515.9,374.3 C516.2,373.4 517,370.4 518,369 C519,367.6 519.2,366.8 521.9,365.9 C524.5,365 528.9,363.5 533.9,363.5 C538.9,363.5 546.9,364.9 551.9,365.9 C556.9,366.9 561.4,368 563.8,369.5 C566.2,371 566.1,373 566.5,375 C566.9,377 566.2,380.4 566.2,381.5" fill="none" stroke="#000" stroke-width="1.0" stroke-linejoin="round" />
<path d="M518.5,370 C519.4,369.4 521.1,367.3 524,366.5 C526.9,365.7 531.3,364.8 536,365 C540.7,365.2 547.7,366.5 552,367.5 C556.3,368.5 560.3,370.4 562,371" fill="none" stroke="#000" stroke-width="1.0" stroke-linejoin="round" />
<path d="M516,375 C517,371 519,368 521,366.5" fill="none" stroke="#000" stroke-width="2.2" stroke-linejoin="round" />
<path d="M512.3,377.9 C512.1,379.9 511.2,385.5 511,390 C510.8,394.5 510.6,400 510.8,405 C511,410 511.4,415.7 512,420 C512.6,424.3 514.2,428.8 514.7,430.6" fill="none" stroke="#000" stroke-width="1.0" stroke-linejoin="round" />
<path d="M499,374 C499,377.5 498.8,386.8 498.8,395 C498.8,403.2 499.1,418.7 499.2,423.4" fill="none" stroke="#000" stroke-width="1.0" stroke-linejoin="round" />
<path d="M550.7,382.7 C549.9,383.9 547.2,387.6 546,390 C544.8,392.4 544.2,394.6 543.5,397.1 C542.8,399.6 542.1,402.2 541.5,405 C540.9,407.8 540.7,411.2 539.9,413.8 C539.1,416.4 537.7,418.5 536.5,420.5 C535.3,422.5 535.1,423.7 532.7,425.8 C530.3,427.9 523.7,431.8 521.9,433" fill="none" stroke="#000" stroke-width="1.0" stroke-linejoin="round" />
<line x1="543.5" y1="401.3" x2="566.2" y2="401.3" stroke="#000" stroke-width="1.0"/>
<path d="M563.8,382.7 C563.6,383.9 562.4,387.3 562.6,389.9 C562.8,392.5 563.6,396.5 565,398.3 C566.4,400.1 570,400.1 571,400.5" fill="none" stroke="#000" stroke-width="1.0" stroke-linejoin="round" />
<ellipse cx="579.4" cy="389.9" rx="6.8" ry="9.9" fill="#fff" stroke="#000" stroke-width="2.2" transform="rotate(12 579.4 389.9)"/>
<ellipse cx="579.8" cy="389.9" rx="4.8" ry="7.6" fill="none" stroke="#000" stroke-width="1.0" transform="rotate(12 579.8 389.9)"/>
<line x1="569" y1="375" x2="576" y2="379" stroke="#000" stroke-width="2.4"/>
<line x1="570" y1="378" x2="574" y2="381.5" stroke="#000" stroke-width="1.6"/>
<line x1="536.5" y1="352" x2="536.8" y2="360" stroke="#000" stroke-width="1.0"/>
<line x1="557.6" y1="352" x2="557.3" y2="360" stroke="#000" stroke-width="1.0"/>
<path d="M536.8,360 C537.7,360.4 540.3,361.9 542,362.3 C543.7,362.7 545.3,362.6 547,362.6 C548.7,362.6 550.3,362.7 552,362.3 C553.7,361.9 556.4,360.4 557.3,360" fill="none" stroke="#000" stroke-width="1.0" stroke-linejoin="round" />
<ellipse cx="547" cy="352" rx="10.7" ry="5.3" fill="#fff" stroke="#000" stroke-width="1.6"/>
<ellipse cx="547" cy="351.6" rx="7.6" ry="3.6" fill="none" stroke="#000" stroke-width="1.0"/>
<polygon points="543.5,362.6 550.5,362.6 550.5,367 543.5,367" fill="none" stroke="#000" stroke-width="1.0" stroke-linejoin="round"/>
<line x1="556.8" y1="366" x2="556.8" y2="370.2" stroke="#000" stroke-width="1.0"/>
<line x1="569.6" y1="366" x2="569.6" y2="370.2" stroke="#000" stroke-width="1.0"/>
<path d="M556.8,370.2 C557.9,370.6 561.1,372.3 563.2,372.3 C565.3,372.3 568.5,370.6 569.6,370.2" fill="none" stroke="#000" stroke-width="1.0" stroke-linejoin="round" />
<ellipse cx="563.2" cy="365.9" rx="6.5" ry="3.5" fill="#fff" stroke="#000" stroke-width="1.4"/>
<ellipse cx="561.5" cy="350" rx="2.2" ry="2.3" fill="none" stroke="#000" stroke-width="1.0"/>
<line x1="560" y1="352" x2="561" y2="357" stroke="#000" stroke-width="1.0"/>
<line x1="563.5" y1="351.5" x2="564" y2="356" stroke="#000" stroke-width="1.0"/>
<line x1="547" y1="431.8" x2="563.8" y2="436.6" stroke="#000" stroke-width="1.0"/>
<line x1="553" y1="429.5" x2="562.6" y2="428.2" stroke="#000" stroke-width="1.0"/>
<ellipse cx="566.2" cy="431.8" rx="3.8" ry="6" fill="#fff" stroke="#000" stroke-width="1.8" transform="rotate(12 566.2 431.8)"/>
<ellipse cx="566.4" cy="431.8" rx="2.1" ry="3.7" fill="none" stroke="#000" stroke-width="1.0" transform="rotate(12 566.4 431.8)"/>
<ellipse cx="453" cy="355.5" rx="3.5" ry="9.5" fill="#fff" stroke="#000" stroke-width="1.4" transform="rotate(10 453 355.5)"/>
<ellipse cx="453.5" cy="355.5" rx="2" ry="6.5" fill="none" stroke="#000" stroke-width="1.0" transform="rotate(10 453.5 355.5)"/>
<line x1="455" y1="346" x2="467" y2="351" stroke="#000" stroke-width="1.0"/>
<line x1="454" y1="365" x2="469.4" y2="369.1" stroke="#000" stroke-width="1.0"/>
<line x1="457.5" y1="345.4" x2="466.6" y2="351" stroke="#000" stroke-width="1.0"/>
<polygon points="458,352 465,353.5 466,361 460,360.5" fill="none" stroke="#000" stroke-width="1.0" stroke-linejoin="round"/>
<line x1="461" y1="350" x2="470" y2="356" stroke="#000" stroke-width="1.0"/>
<path d="M471,345 C471.5,344 472.6,340.3 474,339 C475.4,337.7 477.4,337.2 479.1,337 C480.8,336.8 482.4,336.8 484,338 C485.6,339.2 488,341.2 488.9,344 C489.8,346.8 489.8,350.8 489.6,354.5 C489.5,358.2 488.8,362.5 488,366 C487.2,369.5 486.2,373.4 484.7,375.4 C483.2,377.4 480.7,377.9 479,378 C477.3,378.1 475.8,377.3 474.5,376 C473.2,374.7 471.8,373.2 471,370 C470.2,366.8 470,361.2 470,357 C470,352.8 470.8,347 471,345 C471.2,343 470.5,346 471,345 Z" fill="#fff" stroke="#000" stroke-width="1.6" stroke-linejoin="round" />
<line x1="470.8" y1="342" x2="470.5" y2="372" stroke="#000" stroke-width="2.6"/>
<line x1="472.8" y1="341" x2="472.5" y2="373" stroke="#000" stroke-width="1.0"/>
<ellipse cx="483" cy="348.2" rx="4.4" ry="7.4" fill="none" stroke="#000" stroke-width="2.0" transform="rotate(20 483 348.2)"/>
<line x1="482.5" y1="343" x2="484.5" y2="352" stroke="#000" stroke-width="1.8"/>
<path d="M474.5,359 C475,356.8 476.4,357.7 478,357.5 C479.6,357.3 482.8,356.9 484,358 C485.2,359.1 485.6,361.7 485.4,364 C485.2,366.3 484.2,370.2 483,372 C481.8,373.8 479.3,374.7 478,374.5 C476.7,374.3 475.6,373.6 475,371 C474.4,368.4 474,361.2 474.5,359 Z" fill="none" stroke="#000" stroke-width="1.0" stroke-linejoin="round" />
<path d="M478.5,361 L481,362 L480,367 L478,368 Z" fill="#000" stroke="#000" stroke-width="1.0" stroke-linejoin="round" />
<line x1="488" y1="371" x2="490" y2="373" stroke="#000" stroke-width="1.6"/>
<ellipse cx="541.1" cy="327.1" rx="10.4" ry="7" fill="none" stroke="#000" stroke-width="2.4" transform="rotate(-5 541.1 327.1)"/>
<ellipse cx="541.5" cy="328.5" rx="7.5" ry="4.2" fill="none" stroke="#000" stroke-width="1.0" transform="rotate(-5 541.5 328.5)"/>
<path d="M531,328 C531.3,328.8 531.3,331.8 533,333 C534.7,334.2 538.3,335.5 541,335.5 C543.7,335.5 547.2,334.2 549,333 C550.8,331.8 551.1,328.8 551.5,328" fill="none" stroke="#000" stroke-width="1.0" stroke-linejoin="round" />
<polygon points="556,318 562,311 566,308 569,313 569.8,320 565,324 558,322" fill="#fff" stroke="#000" stroke-width="1.0" stroke-linejoin="round"/>
<polygon points="561,316 565,310 567.5,314 564,319" fill="none" stroke="#000" stroke-width="1.6" stroke-linejoin="round"/>
<ellipse cx="563" cy="326" rx="4" ry="2.5" fill="none" stroke="#000" stroke-width="1.0"/>
<line x1="559" y1="320.5" x2="559" y2="326" stroke="#000" stroke-width="1.0"/>
<line x1="567" y1="320" x2="567" y2="326" stroke="#000" stroke-width="1.0"/>
<ellipse cx="562.7" cy="335" rx="5.8" ry="2.9" fill="none" stroke="#000" stroke-width="1.6"/>
<ellipse cx="562.7" cy="335" rx="3.6" ry="1.6" fill="none" stroke="#000" stroke-width="1.0"/>
<ellipse cx="600.3" cy="402.8" rx="7.4" ry="8.3" fill="none" stroke="#000" stroke-width="2.6" transform="rotate(20 600.3 402.8)"/>
<ellipse cx="601" cy="403" rx="4.5" ry="5.5" fill="none" stroke="#000" stroke-width="1.0" transform="rotate(20 601 403)"/>
<line x1="597" y1="407" x2="603" y2="399" stroke="#000" stroke-width="1.0"/>
<ellipse cx="577.4" cy="437.6" rx="3.8" ry="6" fill="none" stroke="#000" stroke-width="1.5" transform="rotate(20 577.4 437.6)"/>
<ellipse cx="587" cy="442" rx="3.4" ry="6.3" fill="none" stroke="#000" stroke-width="1.0" transform="rotate(20 587 442)"/>
<path d="M587,436 C587.8,435.8 590.3,434.8 592,435 C593.7,435.2 595.7,436 597,437 C598.3,438 599.5,439.5 600,441 C600.5,442.5 600.6,444.3 600.3,446 C600,447.7 599.2,450.1 598,451 C596.8,451.9 594.7,452 593,451.5 C591.3,451 588.8,448.6 588,448" fill="none" stroke="#000" stroke-width="1.4" stroke-linejoin="round" />
<polygon points="593,440 597,438.5 599,444 596,450 593,448" fill="none" stroke="#000" stroke-width="1.8" stroke-linejoin="round"/>
<line x1="595" y1="439" x2="595" y2="448" stroke="#000" stroke-width="1.0"/>
<path d="M440,771.9 C441.3,770.8 445.1,766.9 448,765 C450.9,763.1 451,762.7 457.6,760.7 C464.2,758.8 478.1,755.7 487.9,753.3 C497.7,750.9 511.8,747.5 516.6,746.3" fill="none" stroke="#000" stroke-width="1.0" stroke-linejoin="round" />
<line x1="627.9" y1="721.5" x2="652" y2="714" stroke="#000" stroke-width="1.0"/>
<path d="M652,714 C654.7,714.2 662.7,714 668,715.5 C673.3,717 679,719.5 684,723 C689,726.5 693.1,730.1 698,736.7 C702.9,743.3 709.4,753.2 713.5,762.7 C717.6,772.2 720.6,784.3 722.6,793.8 C724.6,803.3 725,810.7 725.2,819.7 C725.4,828.7 725.1,840.3 724,848 C722.9,855.7 721.2,860.7 718.5,866 C715.8,871.3 711.9,875.9 708,880 C704.1,884.1 699.2,887.9 695,890.5 C690.8,893.1 685,894.7 683,895.5" fill="none" stroke="#000" stroke-width="1.0" stroke-linejoin="round" />
<line x1="683" y1="895.5" x2="505" y2="937" stroke="#000" stroke-width="1.0"/>
<path d="M440,771.9 C438.3,774.6 432.4,781.9 429.8,788.3 C427.2,794.7 425.4,802.6 424.3,810.3 C423.2,818 423,826.7 423.2,834.4 C423.4,842.1 423.9,848.7 425.4,856.4 C426.9,864.1 429.1,872.8 432,880.5 C434.9,888.2 438.6,895.5 443,902.5 C447.4,909.5 453,917.1 458.3,922.2 C463.6,927.3 469.7,930.1 475,933 C480.3,935.9 485,938.8 490,939.5 C495,940.2 502.5,937.4 505,937" fill="none" stroke="#000" stroke-width="1.0" stroke-linejoin="round" />
<ellipse cx="457.5" cy="856" rx="33.5" ry="63" fill="none" stroke="#000" stroke-width="1.0" transform="rotate(-6 457.5 856)"/>
<ellipse cx="455.5" cy="857.5" rx="26.5" ry="47.5" fill="none" stroke="#000" stroke-width="1.0" transform="rotate(-6 455.5 857.5)"/>
<ellipse cx="453.3" cy="858.5" rx="21.5" ry="41.5" fill="none" stroke="#000" stroke-width="1.0" transform="rotate(-6 453.3 858.5)"/>
<ellipse cx="450" cy="858.5" rx="16.8" ry="33.5" fill="none" stroke="#000" stroke-width="1.0" transform="rotate(-6 450 858.5)"/>
<ellipse cx="450.5" cy="858.5" rx="12.3" ry="22.5" fill="none" stroke="#000" stroke-width="1.0" transform="rotate(-6 450.5 858.5)"/>
<ellipse cx="451" cy="858.5" rx="10" ry="19.5" fill="none" stroke="#000" stroke-width="1.0" transform="rotate(-6 451 858.5)"/>
<path d="M455,842 C460,848 463,856 462,866 C461,872 459,876 456,879" fill="none" stroke="#000" stroke-width="2.2" stroke-dasharray="1.3 1.1"/>
<polyline points="428.5,852.5 448.6,849.8 448.6,871.5 429,871.2" fill="#fff" stroke="#000" stroke-width="1.0" stroke-linejoin="round"/>
<ellipse cx="429" cy="862" rx="4.2" ry="9.1" fill="#fff" stroke="#000" stroke-width="1.0"/>
<ellipse cx="429.3" cy="862" rx="2.4" ry="5.2" fill="none" stroke="#000" stroke-width="1.0"/>
<line x1="444" y1="850.5" x2="444" y2="871.3" stroke="#000" stroke-width="1.0"/>
<polygon points="530.9,932.9 560.9,926.9 569.9,947.9 579.9,956.8 578.9,959.8 549.9,965.8 541.9,955.8" fill="#fff" stroke="#000" stroke-width="1.0" stroke-linejoin="round"/>
<line x1="530.9" y1="932.9" x2="560.9" y2="926.9" stroke="#000" stroke-width="2.2"/>
<line x1="534.9" y1="934.9" x2="558.9" y2="929.9" stroke="#000" stroke-width="1.0"/>
<line x1="534.9" y1="934.9" x2="543.9" y2="953.9" stroke="#000" stroke-width="1.0"/>
<line x1="557.9" y1="928.9" x2="566.9" y2="947.9" stroke="#000" stroke-width="1.0"/>
<line x1="543.9" y1="953.9" x2="568.9" y2="948.9" stroke="#000" stroke-width="1.0"/>
<line x1="544.9" y1="956.9" x2="575.9" y2="951.9" stroke="#000" stroke-width="1.0"/>
<line x1="547.9" y1="961.9" x2="577.9" y2="956.4" stroke="#000" stroke-width="1.0"/>
<line x1="541.9" y1="955.8" x2="549.9" y2="965.8" stroke="#000" stroke-width="1.8"/>
<line x1="549.9" y1="965.8" x2="578.9" y2="959.8" stroke="#000" stroke-width="1.4"/>
<ellipse cx="559.9" cy="954.4" rx="1.3" ry="0.9" fill="#000" stroke="#000" stroke-width="0"/>
<line x1="512" y1="938.9" x2="541.9" y2="958.8" stroke="#000" stroke-width="1.0"/>
<polygon points="649.3,904.7 679.3,898.7 688.3,919.7 698.3,928.6 697.3,931.6 668.3,937.6 660.3,927.6" fill="#fff" stroke="#000" stroke-width="1.0" stroke-linejoin="round"/>
<line x1="649.3" y1="904.7" x2="679.3" y2="898.7" stroke="#000" stroke-width="2.2"/>
<line x1="653.3" y1="906.7" x2="677.3" y2="901.7" stroke="#000" stroke-width="1.0"/>
<line x1="653.3" y1="906.7" x2="662.3" y2="925.7" stroke="#000" stroke-width="1.0"/>
<line x1="676.3" y1="900.7" x2="685.3" y2="919.7" stroke="#000" stroke-width="1.0"/>
<line x1="662.3" y1="925.7" x2="687.3" y2="920.7" stroke="#000" stroke-width="1.0"/>
<line x1="663.3" y1="928.7" x2="694.3" y2="923.7" stroke="#000" stroke-width="1.0"/>
<line x1="666.3" y1="933.7" x2="696.3" y2="928.2" stroke="#000" stroke-width="1.0"/>
<line x1="660.3" y1="927.6" x2="668.3" y2="937.6" stroke="#000" stroke-width="1.8"/>
<line x1="668.3" y1="937.6" x2="697.3" y2="931.6" stroke="#000" stroke-width="1.4"/>
<ellipse cx="678.3" cy="926.2" rx="1.3" ry="0.9" fill="#000" stroke="#000" stroke-width="0"/>
<line x1="633.3" y1="907.9" x2="660.3" y2="930.6" stroke="#000" stroke-width="1.0"/>
<line x1="403.4" y1="869.2" x2="424.5" y2="864.5" stroke="#000" stroke-width="1.0" stroke-dasharray="6 4"/>
<polygon points="487.8,723.7 586.4,699.1 653.8,749.7 555,773.5" fill="#fff" stroke="#000" stroke-width="1.0" stroke-linejoin="round"/>
<line x1="487.8" y1="723.7" x2="487.8" y2="753.3" stroke="#000" stroke-width="1.0"/>
<line x1="516.6" y1="746.3" x2="519.5" y2="749" stroke="#000" stroke-width="1.0"/>
<polyline points="555,773.5 555,809.4 581.2,802.9 581.2,775.6 627.9,765.2 627.9,791.2 653.8,784.7 653.8,749.7" fill="none" stroke="#000" stroke-width="1.0" stroke-linejoin="round"/>
<line x1="583.5" y1="776.5" x2="583.5" y2="802.3" stroke="#000" stroke-width="1.0"/>
<line x1="506" y1="730.5" x2="543.5" y2="734.5" stroke="#000" stroke-width="2.6" stroke-linecap="round"/>
<line x1="546" y1="718.5" x2="563" y2="729.5" stroke="#000" stroke-width="4.0" stroke-linecap="round"/>
<line x1="546" y1="718.5" x2="563" y2="729.5" stroke="#fff" stroke-width="2.0" stroke-linecap="round"/>
<line x1="582" y1="723" x2="592" y2="711.5" stroke="#000" stroke-width="4.0" stroke-linecap="round"/>
<line x1="582" y1="723" x2="592" y2="711.5" stroke="#fff" stroke-width="2.0" stroke-linecap="round"/>
<line x1="600" y1="738.5" x2="636" y2="742" stroke="#000" stroke-width="2.4" stroke-linecap="round"/>
<line x1="580" y1="745.5" x2="597" y2="753" stroke="#000" stroke-width="4.0" stroke-linecap="round"/>
<line x1="580" y1="745.5" x2="597" y2="753" stroke="#fff" stroke-width="2.0" stroke-linecap="round"/>
<line x1="551" y1="761" x2="561" y2="749.5" stroke="#000" stroke-width="4.0" stroke-linecap="round"/>
<line x1="551" y1="761" x2="561" y2="749.5" stroke="#fff" stroke-width="2.0" stroke-linecap="round"/>
<line x1="587.7" y1="700" x2="587.7" y2="812" stroke="#000" stroke-width="1.0" stroke-dasharray="7 4"/>
<polygon points="580,816 584,813.2 590,813.5 593,816.5 592.5,821 588,823.6 582,823 579.8,820" fill="#fff" stroke="#000" stroke-width="1.0" stroke-linejoin="round"/>
<ellipse cx="586.4" cy="816.5" rx="4" ry="1.8" fill="none" stroke="#000" stroke-width="1.0"/>
<line x1="584" y1="818" x2="584" y2="823" stroke="#000" stroke-width="1.0"/>
<line x1="589" y1="818" x2="589" y2="823" stroke="#000" stroke-width="1.0"/>
<path d="M751.7,674.7 C756.1,676.2 767.1,678.7 773.9,682.1 C780.6,685.4 782.3,687.3 785.5,691.4 C788.7,695.5 789.1,696 790,702.7 C790.9,709.5 789.3,715.6 790,725.1 C790.7,734.6 792.5,740.2 793.7,750.1 C795,760 796.4,767.6 796.3,774.7 C796.2,781.8 797.7,781.5 793.2,785.5 C788.8,789.6 782.8,791.2 774,795.1 C765.1,799 759,801.1 749,805.1 C739.1,809 734.2,811.8 724.3,815 C714.4,818.2 708.4,819.2 699.5,821.2 C690.7,823.1 686.9,825 680.1,824.7 C673.3,824.4 672,821.8 665.7,819.8 C659.4,817.8 654.6,814.9 648.8,814.8 C643,814.7 640.1,816.3 636.5,819.2 C633,822.1 632.6,824.7 630.9,829.2 C629.1,833.6 628.4,839 627.8,841.4" fill="none" stroke="#000" stroke-width="1.0" stroke-linejoin="round" />
<path d="M753.1,670.3 C757.7,671.8 768.7,674.3 775.9,677.9 C783.1,681.6 785.4,683.8 789.1,688.6 C792.8,693.4 793.5,694.8 794.6,702.1 C795.7,709.3 793.9,715.2 794.6,724.7 C795.3,734.2 797,739.5 798.3,749.5 C799.5,759.5 801.3,767 800.9,774.9 C800.5,782.7 801.4,784 796.4,788.9 C791.4,793.8 785,795.2 775.8,799.3 C766.7,803.4 760.8,805.3 750.8,809.3 C740.7,813.4 735.8,816.1 725.7,819.4 C715.7,822.7 709.6,823.7 700.5,825.6 C691.3,827.6 687.1,829.6 679.9,829.3 C672.7,829 670.6,826.2 664.3,824.2 C658,822.2 653.6,819.7 648.6,819.4 C643.6,819.1 642.2,820.5 639.5,822.8 C636.8,825.1 636.6,826.9 635.1,830.8 C633.7,834.8 632.8,840.2 632.2,842.6" fill="none" stroke="#000" stroke-width="1.0" stroke-linejoin="round" />
<line x1="731" y1="667.5" x2="752.4" y2="672.5" stroke="#000" stroke-width="3.2"/>
<line x1="729.5" y1="665.5" x2="745" y2="670" stroke="#000" stroke-width="1.0"/>
<line x1="730" y1="669.8" x2="744" y2="673.5" stroke="#000" stroke-width="1.0"/>
<line x1="629.5" y1="842" x2="626.5" y2="858" stroke="#000" stroke-width="3.2"/>
<line x1="632" y1="844" x2="629" y2="857" stroke="#000" stroke-width="1.0"/>
<line x1="627" y1="844" x2="624.5" y2="857" stroke="#000" stroke-width="1.0"/>
<path d="M560,539.3 C561.7,538.5 565.1,536 570,534.5 C574.9,533 582,530.5 589.5,530 C597,529.5 607.7,532 614.9,531.5 C622.1,531 628.6,527.8 632.9,527 C637.1,526.2 639.1,527 640.4,527" fill="none" stroke="#000" stroke-width="1.0" stroke-linejoin="round" />
<line x1="589.5" y1="530" x2="596" y2="534" stroke="#000" stroke-width="1.0"/>
<line x1="596" y1="534" x2="614.9" y2="531.5" stroke="#000" stroke-width="1.0"/>
<path d="M640.4,527 C642.6,528.5 649.6,532.5 653.8,536 C658,539.5 662.8,544 665.8,548 C668.8,552 670.4,556 671.8,560 C673.2,564 673.6,566.2 674,571.9 C674.4,577.6 674.4,589.6 674,594.3 C673.6,599 673.2,598.5 671.8,600.3 C670.4,602 666.8,604 665.8,604.8" fill="none" stroke="#000" stroke-width="1.0" stroke-linejoin="round" />
<path d="M637.4,527 C639,528 644.3,530.5 647,533 C649.7,535.5 651.4,538 653.8,542 C656.2,546 659,552.5 661.3,557 C663.5,561.5 666.2,563.4 667.3,568.9 C668.4,574.4 668.2,583.8 668,589.8 C667.8,595.8 666.2,602.3 665.8,604.8" fill="none" stroke="#000" stroke-width="1.0" stroke-linejoin="round" />
<line x1="653.8" y1="536" x2="667" y2="534" stroke="#000" stroke-width="0"/>
<line x1="582" y1="559.9" x2="665.8" y2="542.7" stroke="#000" stroke-width="1.0"/>
<line x1="589.5" y1="568.9" x2="667.3" y2="550.9" stroke="#000" stroke-width="1.0"/>
<line x1="594" y1="583.9" x2="662.8" y2="564.4" stroke="#000" stroke-width="1.0"/>
<line x1="594" y1="595.8" x2="665.8" y2="570.4" stroke="#000" stroke-width="1.0"/>
<line x1="577" y1="549" x2="645" y2="533.5" stroke="#000" stroke-width="1.0"/>
<line x1="597" y1="625.8" x2="665.8" y2="604.8" stroke="#000" stroke-width="1.0"/>
<line x1="597.5" y1="628.2" x2="662" y2="609.8" stroke="#000" stroke-width="2.4"/>
<line x1="598" y1="631" x2="660" y2="612.5" stroke="#000" stroke-width="1.0"/>
<path d="M579,552.4 C580.8,555.4 587.1,565.4 589.5,570.4 C591.9,575.4 592.5,577.7 593.2,582.4 C594,587.1 593.6,592.1 594,598.8 C594.4,605.5 594.4,617 595.4,622.8 C596.4,628.5 597.8,630.3 600,633.3 C602.2,636.3 605.2,638.7 608.9,640.7 C612.6,642.7 615.4,644.7 622.4,645.2 C629.4,645.7 646.1,644 650.8,643.7" fill="none" stroke="#000" stroke-width="1.0" stroke-linejoin="round" />
<polyline points="600,641.5 650.8,640.7 653.8,646.7 651.6,647.5 589.5,666" fill="none" stroke="#000" stroke-width="1.0" stroke-linejoin="round"/>
<line x1="650.8" y1="640.7" x2="653.8" y2="643.5" stroke="#000" stroke-width="1.0"/>
<line x1="651.6" y1="643" x2="653.5" y2="647" stroke="#000" stroke-width="1.6"/>
<path d="M521.8,553.7 C521.9,552.2 521.6,546.8 522.6,544.4 C523.6,542 525.7,540.6 527.7,539.3 C529.7,538 531,537.6 534.5,536.8 C538,536 544.6,534.3 548.9,534.7 C553.1,535.1 557.2,537.8 560,539.3 C562.8,540.8 563.5,541.8 565.9,543.6 C568.3,545.5 571.6,547.6 574.4,550.4 C577.2,553.2 580.5,557.2 582.9,560.5 C585.3,563.8 587.4,567.1 588.8,569.9 C590.2,572.7 590.6,574.2 591.3,577.5 C592,580.8 592.6,585.6 593,589.4 C593.4,593.1 593.7,595.1 593.9,600 C594.1,604.9 594.1,615.8 594.1,618.9" fill="none" stroke="#000" stroke-width="1.0" stroke-linejoin="round" />
<path d="M524.3,545.3 C525.6,544.3 529.3,540 532,539.3 C534.7,538.6 537.6,539.9 540.4,541 C543.2,542.1 546.3,544.2 548.9,546.1 C551.5,548 553.4,550 555.7,552.1 C558,554.2 560.2,556.3 562.5,558.8 C564.8,561.3 567.3,564.5 569.3,567.3 C571.3,570.1 573.1,573.2 574.4,575.8 C575.7,578.3 576.3,578.6 576.9,582.6 C577.5,586.6 578,593.8 578.2,600 C578.4,606.2 578.3,608.6 578.2,620 C578.1,631.4 577.6,660.4 577.5,668.5" fill="none" stroke="#000" stroke-width="1.0" stroke-linejoin="round" />
<path d="M524.8,548.7 C525.1,548.4 525.3,547.1 526.9,547 C528.5,546.9 531.5,546.8 534.5,547.8 C537.5,548.8 541.6,550.9 544.7,552.9 C547.8,554.9 550.5,557.3 553.2,559.7 C555.9,562.1 558.7,564.8 560.8,567.3 C562.9,569.8 564.5,572.5 565.9,575 C567.3,577.5 568.5,578.4 569.3,582.6 C570.1,586.8 570.3,593.4 570.6,600 C570.9,606.6 570.9,614.5 571,622 C571.1,629.5 571.6,640.7 571.4,645 C571.2,649.3 570.2,647.5 570,648" fill="none" stroke="#000" stroke-width="1.0" stroke-linejoin="round" />
<path d="M526,552.1 C527,552 529.2,550.8 532,551.2 C534.8,551.6 539.8,552.9 543,554.6 C546.2,556.3 548.8,559 551.5,561.4 C554.2,563.8 557,566.5 559.1,569 C561.2,571.5 562.8,573.9 564.2,576.6 C565.6,579.3 566.9,581.2 567.6,585.1 C568.3,589 568.2,593.4 568.4,600 C568.6,606.6 568.8,617.5 568.8,625 C568.8,632.5 568.5,641.7 568.5,645" fill="none" stroke="#000" stroke-width="1.0" stroke-linejoin="round" />
<path d="M527,549.5 C528.3,549.5 532,549 535,549.8 C538,550.5 541.8,552.1 545,554 C548.2,555.9 551.3,558.6 554,561 C556.7,563.4 559,566 561,568.5 C563,571 564.8,573.4 566,576 C567.2,578.6 567.9,580 568.5,584 C569.1,588 569.2,597.3 569.4,600" fill="none" stroke="#000" stroke-width="1.0" stroke-linejoin="round" />
<line x1="521.8" y1="553.7" x2="526" y2="552.1" stroke="#000" stroke-width="1.0"/>
<line x1="575.4" y1="615.8" x2="575.4" y2="668.5" stroke="#000" stroke-width="0"/>
<line x1="578.2" y1="619.5" x2="594.6" y2="615.8" stroke="#000" stroke-width="1.0"/>
<line x1="577.5" y1="668.5" x2="589.5" y2="666" stroke="#000" stroke-width="1.0"/>
<line x1="573.5" y1="620" x2="573.5" y2="668" stroke="#000" stroke-width="1.0"/>
<polyline points="532.8,663.6 541.9,662.1 573.5,668.5" fill="none" stroke="#000" stroke-width="1.0" stroke-linejoin="round"/>
<path d="M524,650 C524.3,651 524.5,653.7 526,656 C527.5,658.3 531.7,662.3 532.8,663.6" fill="none" stroke="#000" stroke-width="1.0" stroke-linejoin="round" />
<line x1="565.9" y1="543.6" x2="645" y2="533" stroke="#000" stroke-width="1.0"/>
<path d="M483.6,575 C484.8,573.8 488.1,569.4 490.8,567.9 C493.5,566.4 496.1,566.1 500,566 C503.9,565.9 508.9,566.5 513.9,567.2 C518.9,567.9 525.5,568.3 530,570 C534.5,571.7 537.5,575.1 540.8,577.4 C544.1,579.7 546.4,581.8 550,584 C553.6,586.2 559.7,588.1 562.4,590.8 C565.1,593.5 565.2,595.1 566,600 C566.8,604.9 567.1,613.3 567.4,620 C567.7,626.7 568.1,635.6 567.8,640 C567.5,644.4 568,644.8 565.8,646.1 C563.6,647.4 559.1,647.2 554.6,647.7 C550.1,648.2 544,649.3 538.7,649.3 C533.4,649.3 526.7,648.5 522.7,647.7 C518.7,646.9 518.2,646.7 514.7,644.6 C511.2,642.5 505.9,638.5 501.9,635 C497.9,631.5 493.9,628.1 490.8,623.8 C487.8,619.5 484.8,611.8 483.6,609.4" fill="#fff" stroke="#000" stroke-width="1.0" stroke-linejoin="round" />
<path d="M486,578 C487,577.3 488.8,574.9 492,574 C495.2,573.1 500.3,572.5 505,572.5 C509.7,572.5 515,573 520,574 C525,575 530.6,576.8 535,578.5 C539.4,580.2 543.8,582.4 546.6,584 C549.4,585.6 551.1,587.3 552,588" fill="none" stroke="#000" stroke-width="1.0" stroke-linejoin="round" />
<path d="M486,582 C487.5,582.5 491,584 495,585 C499,586 504.2,587.2 510,588 C515.8,588.8 523.9,589.4 530,589.5 C536.1,589.6 543.8,588.8 546.6,588.7" fill="none" stroke="#000" stroke-width="1.0" stroke-linejoin="round" />
<path d="M509.9,590.3 C510.6,591.6 512.7,594.8 514,598 C515.3,601.2 516.9,605.7 517.9,609.4 C518.9,613.1 519.2,616.8 520,620 C520.8,623.2 521.5,625.8 522.7,628.6 C523.9,631.4 525.4,634.3 527,637 C528.6,639.7 531.4,643.3 532.3,644.6" fill="none" stroke="#000" stroke-width="1.0" stroke-linejoin="round" />
<path d="M546.6,588.7 C547,590.6 548.5,595.5 549,600 C549.5,604.5 549.7,610.8 549.8,615.8 C549.9,620.8 549.8,625 549.5,630 C549.2,635 548.4,643.4 548.2,646.1" fill="none" stroke="#000" stroke-width="1.0" stroke-linejoin="round" />
<path d="M490,610 C491.7,610.5 495.8,612.5 500,613 C504.2,613.5 512.5,613 515,613" fill="none" stroke="#000" stroke-width="1.0" stroke-linejoin="round" />
<path d="M494,588 C493.5,590 491.3,596 491,600 C490.7,604 491,607.8 492,612 C493,616.2 494.8,621 497,625 C499.2,629 503.7,634.2 505,636" fill="none" stroke="#000" stroke-width="1.0" stroke-linejoin="round" />
<ellipse cx="519.5" cy="559.9" rx="10" ry="4" fill="#fff" stroke="#000" stroke-width="1.0"/>
<line x1="509.5" y1="560" x2="509.5" y2="567" stroke="#000" stroke-width="1.0"/>
<line x1="529.5" y1="560" x2="529.5" y2="566.5" stroke="#000" stroke-width="1.0"/>
<path d="M509.5,567 C511.2,567.4 516.2,569.6 519.5,569.5 C522.8,569.4 527.8,567 529.5,566.5" fill="none" stroke="#000" stroke-width="1.0" stroke-linejoin="round" />
<polygon points="494,563 501,561.5 507.5,562.5 507.5,579 494,580.7" fill="#fff" stroke="#000" stroke-width="1.0" stroke-linejoin="round"/>
<line x1="494" y1="563" x2="500.5" y2="565" stroke="#000" stroke-width="1.0"/>
<line x1="500.5" y1="565" x2="507.5" y2="562.5" stroke="#000" stroke-width="1.0"/>
<line x1="500.5" y1="565" x2="500.5" y2="580" stroke="#000" stroke-width="1.0"/>
<line x1="494" y1="571" x2="507" y2="570" stroke="#000" stroke-width="1.0"/>
<line x1="507.5" y1="570" x2="512" y2="572" stroke="#000" stroke-width="1.4"/>
<ellipse cx="482" cy="596.6" rx="7.2" ry="10.4" fill="#fff" stroke="#000" stroke-width="1.0" transform="rotate(5 482 596.6)"/>
<ellipse cx="481.8" cy="596.6" rx="4.8" ry="7.6" fill="none" stroke="#000" stroke-width="1.0" transform="rotate(5 481.8 596.6)"/>
<line x1="482.5" y1="586.3" x2="493" y2="584" stroke="#000" stroke-width="1.0"/>
<line x1="483" y1="607" x2="492" y2="609" stroke="#000" stroke-width="1.0"/>
<path d="M492,584 C492.4,585 494,587.3 494.5,590 C495,592.7 495.3,596.8 495,600 C494.7,603.2 492.9,607.5 492.5,609" fill="none" stroke="#000" stroke-width="1.0" stroke-linejoin="round" />
<line x1="498" y1="637" x2="510" y2="642.5" stroke="#000" stroke-width="1.0"/>
<line x1="499.8" y1="649.5" x2="520" y2="645" stroke="#000" stroke-width="1.0"/>
<ellipse cx="497" cy="643.5" rx="3.5" ry="6.5" fill="#fff" stroke="#000" stroke-width="2.0" transform="rotate(10 497 643.5)"/>
<ellipse cx="497.3" cy="643.5" rx="1.8" ry="3.8" fill="none" stroke="#000" stroke-width="1.0" transform="rotate(10 497.3 643.5)"/>
<ellipse cx="709.9" cy="548.5" rx="6" ry="2.6" fill="#fff" stroke="#000" stroke-width="1.5"/>
<ellipse cx="709.9" cy="547.5" rx="3.2" ry="1.8" fill="none" stroke="#000" stroke-width="1.0"/>
<polygon points="708,551 712.5,551 712.5,569.5 708,569.5" fill="#fff" stroke="#000" stroke-width="1.0" stroke-linejoin="round"/>
<line x1="708" y1="560" x2="712.5" y2="560" stroke="#000" stroke-width="1.0"/>
<line x1="710.3" y1="572.9" x2="710.3" y2="614.8" stroke="#000" stroke-width="1.0" stroke-dasharray="7 4"/>
<line x1="710.3" y1="614.8" x2="600" y2="636.6" stroke="#000" stroke-width="1.0" stroke-dasharray="7 4"/>
<line x1="586.6" y1="642" x2="586.6" y2="698" stroke="#000" stroke-width="1.0" stroke-dasharray="7 4"/>
<line x1="462" y1="646.5" x2="492" y2="640" stroke="#000" stroke-width="1.0" stroke-dasharray="6 4"/>
<path d="M361.5,737.9 C361.4,733.5 360,719 360.6,711.4 C361.2,703.8 362.3,698.7 365.3,692.4 C368.3,686.1 373.5,678.8 378.6,673.4 C383.7,668 389.1,663.5 395.7,660.2 C402.3,656.9 414.6,654.6 418.4,653.5" fill="none" stroke="#000" stroke-width="1.0" stroke-linejoin="round" />
<path d="M372.9,737.9 C372.9,732.9 371.6,715.8 372.9,707.6 C374.2,699.4 377,694.3 380.5,688.6 C384,682.9 389.7,676.9 393.8,673.4 C397.9,669.9 400.9,669 405,667.5 C409.1,666 416.2,665 418.4,664.5" fill="none" stroke="#000" stroke-width="1.0" stroke-linejoin="round" />
<polygon points="418.4,652.5 428,650 437.4,649 437.4,663 428,664.5 418.4,666" fill="#fff" stroke="#000" stroke-width="1.0" stroke-linejoin="round"/>
<line x1="420.5" y1="652" x2="421" y2="665.5" stroke="#000" stroke-width="1.6"/>
<line x1="424" y1="651.3" x2="424.5" y2="665" stroke="#000" stroke-width="1.0"/>
<line x1="428" y1="650" x2="428.5" y2="664.5" stroke="#000" stroke-width="1.0"/>
<line x1="431" y1="649.6" x2="431.5" y2="664" stroke="#000" stroke-width="1.0"/>
<line x1="434" y1="649.2" x2="434.5" y2="663.5" stroke="#000" stroke-width="1.0"/>
<polygon points="359,737.9 375,737.9 375,762.5 359,762.5" fill="#fff" stroke="#000" stroke-width="1.0" stroke-linejoin="round"/>
<line x1="359" y1="741" x2="375" y2="741" stroke="#000" stroke-width="1.6"/>
<line x1="359" y1="744" x2="375" y2="744" stroke="#000" stroke-width="1.0"/>
<line x1="359" y1="749" x2="375" y2="749" stroke="#000" stroke-width="1.6"/>
<line x1="359" y1="752" x2="375" y2="752" stroke="#000" stroke-width="1.0"/>
<line x1="365" y1="752" x2="365" y2="762.5" stroke="#000" stroke-width="1.0"/>
<line x1="370" y1="752" x2="370" y2="762.5" stroke="#000" stroke-width="1.0"/>
<ellipse cx="390" cy="669.6" rx="0.7" ry="0.7" fill="#000" stroke="#000" stroke-width="0"/>
<ellipse cx="454.4" cy="649.7" rx="6.4" ry="8.2" fill="none" stroke="#000" stroke-width="1.0" transform="rotate(10 454.4 649.7)"/>
<ellipse cx="454.8" cy="649.7" rx="3.4" ry="4.5" fill="none" stroke="#000" stroke-width="1.0"/>
<line x1="451.5" y1="650" x2="458" y2="649.5" stroke="#000" stroke-width="1.0"/>
<line x1="437.4" y1="653.5" x2="447" y2="651.6" stroke="#000" stroke-width="1.0" stroke-dasharray="5 3"/>
<line x1="367.2" y1="762.5" x2="367.2" y2="858" stroke="#000" stroke-width="1.0" stroke-dasharray="7 4"/>
<path d="M239.6,848.2 C237.4,848.8 231.2,849.5 227.8,851.6 C224.4,853.8 224.3,857.2 221.2,859.8 C218.1,862.4 215.7,864.5 210.8,865.8 C206,867.1 200.1,866.5 194.9,866.8 C189.6,867.1 186.1,866.5 182.3,867.3 C178.4,868.2 176,869.2 173.9,871.5 C171.8,873.8 171,875.5 170.6,879.9 C170.2,884.2 171.2,889.8 171.8,895.3 C172.5,900.7 173.2,904.3 174.1,909.8 C175,915.3 176.2,921.3 176.8,925.3 C177.4,929.3 177.6,928.9 177.3,931.5 C177,934.2 176.7,937.6 175.2,939.7 C173.7,941.9 171.7,942.7 169.3,943.4 C166.9,944.2 166.5,944.4 162.1,943.9 C157.8,943.4 150.1,942.2 145.7,940.9 C141.2,939.6 139.4,937.4 138.1,936.8 C136.8,936.1 136.4,937.1 138.6,937.1 C140.8,937.1 143.7,936.8 150,936.7 C156.4,936.6 166.9,936.6 173.1,936.7 C179.3,936.8 181.9,937.1 183.9,937.2" fill="none" stroke="#000" stroke-width="1.0" stroke-linejoin="round" />
<path d="M240.8,852.4 C238.9,853 233.3,853.4 230.2,855.4 C227.1,857.3 227.3,860.5 224,863.2 C220.7,865.9 217.3,868.6 212,870 C206.7,871.5 200.4,870.9 195.1,871.2 C189.8,871.5 186.4,871 183.1,871.7 C179.8,872.3 178.6,873 177.1,874.5 C175.6,876.1 175.2,876.4 175,880.1 C174.8,883.9 175.5,889.4 176.2,894.7 C176.8,900 177.6,903.5 178.5,909 C179.4,914.5 180.6,920.5 181.2,924.7 C181.8,928.9 182.1,928.9 181.7,932.1 C181.2,935.3 180.8,939.4 178.8,942.3 C176.8,945.1 173.8,946.5 170.7,947.6 C167.6,948.7 166.5,948.7 161.7,948.3 C156.8,947.8 149.3,946.7 144.3,945.1 C139.4,943.5 136,941.9 134.7,939.6 C133.5,937.4 134.6,934.2 137.4,932.9 C140.2,931.5 143.4,932.4 150,932.3 C156.5,932.2 166.9,932.2 173.1,932.3 C179.4,932.4 182.1,932.7 184.1,932.8" fill="none" stroke="#000" stroke-width="1.0" stroke-linejoin="round" />
<line x1="240.2" y1="850.3" x2="255" y2="842" stroke="#000" stroke-width="3.2"/>
<line x1="242" y1="846.5" x2="256" y2="840" stroke="#000" stroke-width="1.0"/>
<line x1="243" y1="852.5" x2="257" y2="845" stroke="#000" stroke-width="1.0"/>
<polygon points="183.5,930.6 189.9,931.9 188.6,944.2 180.2,941.6" fill="#fff" stroke="#000" stroke-width="1.0" stroke-linejoin="round"/>
<path d="M188,930.5 C188.7,929.6 190.6,925.6 191.9,925.4 C193.2,925.2 195,927.4 195.8,929.3 C196.6,931.2 196.7,934 196.5,937 C196.3,940 195.6,945.5 194.5,947.4 C193.4,949.2 191.1,948.7 189.9,948.1 C188.7,947.5 188.1,945.9 187.5,944 C186.9,942.1 186.4,939.2 186.5,937 C186.6,934.8 187.8,931.6 188,930.5 C188.2,929.4 187.3,931.4 188,930.5 Z" fill="#fff" stroke="#000" stroke-width="1.0" stroke-linejoin="round" />
<polygon points="195.8,929.9 201.5,929.9 201.5,945.5 195.8,944.2" fill="#fff" stroke="#000" stroke-width="1.0" stroke-linejoin="round"/>
<ellipse cx="207" cy="937.7" rx="5.6" ry="15" fill="#fff" stroke="#000" stroke-width="1.0"/>
<ellipse cx="205.6" cy="937.7" rx="4.6" ry="12.6" fill="none" stroke="#000" stroke-width="1.0"/>
<polygon points="211,925.4 223,925.4 225.6,928 225.6,947.4 223,949.4 211.3,949.4" fill="#fff" stroke="#000" stroke-width="1.0" stroke-linejoin="round"/>
<line x1="211" y1="925.6" x2="223" y2="925.6" stroke="#000" stroke-width="2.2"/>
<line x1="211.5" y1="949.2" x2="223" y2="949.2" stroke="#000" stroke-width="2.0"/>
<line x1="212" y1="925.4" x2="212.6" y2="949.4" stroke="#000" stroke-width="2.2"/>
<polygon points="225.8,929.4 233.4,929.4 233.4,933.2 225.8,933.2" fill="none" stroke="#000" stroke-width="1.0" stroke-linejoin="round"/>
<polygon points="225.8,942.2 232.7,942.2 232.7,945.5 225.8,945.5" fill="none" stroke="#000" stroke-width="1.0" stroke-linejoin="round"/>
<polygon points="273.3,815.8 281,811 301.9,805.4 313.1,809.6 329.9,820.7 331.3,857.1 333,868 320,880 297.7,890.6 293.5,879.4 276.8,865.5 274,831.9" fill="#fff" stroke="#000" stroke-width="1.0" stroke-linejoin="round"/>
<line x1="273.3" y1="815.8" x2="292.1" y2="827.7" stroke="#000" stroke-width="1.0"/>
<line x1="280" y1="811.5" x2="293" y2="820" stroke="#000" stroke-width="1.0"/>
<line x1="293" y1="820" x2="293" y2="827" stroke="#000" stroke-width="1.0"/>
<line x1="288" y1="816.5" x2="316" y2="811.5" stroke="#000" stroke-width="1.0"/>
<line x1="293" y1="820" x2="329" y2="815" stroke="#000" stroke-width="0"/>
<polygon points="292.1,827.7 329.9,822.1 331.3,857.1 294.9,875.2" fill="none" stroke="#000" stroke-width="2.4" stroke-linejoin="round"/>
<polygon points="295.5,833 327.5,827 328.5,854 297.5,869" fill="none" stroke="#000" stroke-width="1.0" stroke-linejoin="round"/>
<line x1="294" y1="829.8" x2="329.5" y2="824.2" stroke="#000" stroke-width="3" stroke-dasharray="1.4 1.1"/>
<ellipse cx="318.5" cy="844.5" rx="10" ry="10.5" fill="#fff" stroke="#000" stroke-width="1.0"/>
<ellipse cx="319" cy="844.5" rx="7.2" ry="7.6" fill="none" stroke="#000" stroke-width="1.0"/>
<polygon points="316,839.5 321,838.5 324,842.5 322.5,848 317.5,849 314.5,845" fill="none" stroke="#000" stroke-width="1.6" stroke-linejoin="round"/>
<ellipse cx="319.2" cy="843.8" rx="2.2" ry="2.5" fill="none" stroke="#000" stroke-width="1.4"/>
<path d="M306,836 C300,842 300,852 306,857" fill="none" stroke="#000" stroke-width="1.4" stroke-linejoin="round" />
<line x1="297" y1="836" x2="297.5" y2="866" stroke="#000" stroke-width="2.2"/>
<line x1="276" y1="820" x2="277" y2="866" stroke="#000" stroke-width="1.0"/>
<line x1="292.1" y1="827.7" x2="294.9" y2="875.2" stroke="#000" stroke-width="1.0"/>
<ellipse cx="302.6" cy="882.9" rx="7" ry="7.5" fill="#fff" stroke="#000" stroke-width="1.0"/>
<ellipse cx="306.1" cy="886.4" rx="7.7" ry="7.7" fill="#fff" stroke="#000" stroke-width="2.6"/>
<ellipse cx="306.1" cy="886.4" rx="4.4" ry="4.4" fill="none" stroke="#000" stroke-width="1.0"/>
<ellipse cx="326.4" cy="875.9" rx="7" ry="7.5" fill="#fff" stroke="#000" stroke-width="1.0"/>
<ellipse cx="329.9" cy="879.4" rx="7.7" ry="7.7" fill="#fff" stroke="#000" stroke-width="2.6"/>
<ellipse cx="329.9" cy="879.4" rx="4.4" ry="4.4" fill="none" stroke="#000" stroke-width="1.0"/>
<ellipse cx="307.5" cy="870" rx="1.8" ry="2.2" fill="#000" stroke="#000" stroke-width="0"/>
<ellipse cx="319" cy="867" rx="1.8" ry="2.2" fill="#000" stroke="#000" stroke-width="0"/>
<line x1="332.7" y1="854.3" x2="350.8" y2="866.8" stroke="#000" stroke-width="1.0" stroke-dasharray="5 3"/>
<polygon points="381.6,863 392,860.5 399.4,866 401.1,876 399,888 392,891.6 381.6,890" fill="#fff" stroke="#000" stroke-width="1.0" stroke-linejoin="round"/>
<ellipse cx="394.4" cy="876" rx="6.5" ry="15" fill="none" stroke="#000" stroke-width="1.0"/>
<line x1="383" y1="862.5" x2="385" y2="890" stroke="#000" stroke-width="2.0"/>
<path d="M359,868 C355.2,868.5 353.4,869.3 352,871 C350.6,872.7 350.5,875.7 350.8,878 C351.1,880.3 352.5,883 354,885 C355.5,887 359,888.2 360,890 C361,891.8 358.7,894.3 360,896 C361.3,897.7 365.3,899.7 368,900 C370.7,900.3 374.2,899.7 376,898 C377.8,896.3 378.3,894 379,890 C379.7,886 380.7,877.7 380,874 C379.3,870.3 378.4,869 374.9,868 C371.4,867 362.8,867.5 359,868 Z" fill="#fff" stroke="#000" stroke-width="1.0" stroke-linejoin="round" />
<polyline points="359.2,858.7 359.2,872.2 366.7,874.5 374.9,872.2 374.9,858.7" fill="#fff" stroke="#000" stroke-width="1.0" stroke-linejoin="round"/>
<ellipse cx="366.7" cy="858.7" rx="7.8" ry="3.1" fill="#fff" stroke="#000" stroke-width="1.4"/>
<ellipse cx="366.7" cy="858.3" rx="4.5" ry="1.6" fill="#000" stroke="#000" stroke-width="1.0"/>
<line x1="359.2" y1="867" x2="374.9" y2="867" stroke="#000" stroke-width="1.0"/>
<ellipse cx="374.9" cy="887.9" rx="8.5" ry="8.5" fill="#fff" stroke="#000" stroke-width="1.0"/>
<ellipse cx="377.4" cy="887.9" rx="6.5" ry="7" fill="#fff" stroke="#000" stroke-width="1.4"/>
<ellipse cx="378" cy="888" rx="3.8" ry="4.2" fill="none" stroke="#000" stroke-width="1.0"/>
<ellipse cx="378.2" cy="888" rx="1.2" ry="1.4" fill="#000" stroke="#000" stroke-width="0"/>
<line x1="383.9" y1="893.9" x2="400.4" y2="902.9" stroke="#000" stroke-width="1.0" stroke-dasharray="5 3"/>
<line x1="366.5" y1="900" x2="366.5" y2="906" stroke="#000" stroke-width="1.0"/>
<polygon points="362,906.5 371,906.5 371,912 362,912" fill="#fff" stroke="#000" stroke-width="1.0" stroke-linejoin="round"/>
<ellipse cx="366.5" cy="906.5" rx="4.5" ry="1.4" fill="none" stroke="#000" stroke-width="1.0"/>
<polygon points="358.4,915 376.4,914 376.4,918.5 372,920 372,929 362,929.8 362,920 358.4,918.5" fill="#fff" stroke="#000" stroke-width="1.0" stroke-linejoin="round"/>
<line x1="358.4" y1="915" x2="362" y2="912" stroke="#000" stroke-width="1.0"/>
<line x1="376.4" y1="914" x2="371" y2="912" stroke="#000" stroke-width="1.0"/>
<line x1="366" y1="920" x2="366" y2="929" stroke="#000" stroke-width="1.0"/>
<line x1="369" y1="920" x2="369" y2="929" stroke="#000" stroke-width="1.0"/>
<path d="M426,896 C418,894 408,895 402,902 C396,910 396,922 402,930 C405,934 408,936 412,937" fill="none" stroke="#000" stroke-width="1.0" stroke-linejoin="round" />
<path d="M424,899.5 C417,898.5 411,900.5 407.5,906 C403.5,912 403,921 406.5,928 C408,931 410,933 412,934" fill="none" stroke="#000" stroke-width="1.0" stroke-linejoin="round" />
<path d="M411,905 C408,910 406,917 407,925" fill="none" stroke="#000" stroke-width="1.6" stroke-dasharray="1.2 1"/>
<ellipse cx="421.4" cy="917.9" rx="14.8" ry="17" fill="#fff" stroke="#000" stroke-width="2.6"/>
<line x1="411.4" y1="911.1" x2="409.3" y2="909.8" stroke="#000" stroke-width="1.4"/>
<line x1="419.4" y1="904.6" x2="419" y2="901.9" stroke="#000" stroke-width="1.4"/>
<line x1="429.5" y1="908.4" x2="431.3" y2="906.4" stroke="#000" stroke-width="1.4"/>
<line x1="432.9" y1="917.9" x2="435.4" y2="917.9" stroke="#000" stroke-width="1.4"/>
<line x1="427.1" y1="929.6" x2="428.4" y2="931.9" stroke="#000" stroke-width="1.4"/>
<line x1="417.5" y1="930.6" x2="416.6" y2="933.1" stroke="#000" stroke-width="1.4"/>
<line x1="411.4" y1="924.6" x2="409.3" y2="926" stroke="#000" stroke-width="1.4"/>
<line x1="417" y1="912.5" x2="426.4" y2="928.4" stroke="#000" stroke-width="1.4"/>
<line x1="419.5" y1="916.5" x2="421" y2="919" stroke="#000" stroke-width="2.4"/>
<path d="M0.1,0.22 L0.6,0 L0.6,1" transform="translate(556.4 4.1) scale(4.0 10.2)" fill="none" stroke="#000" stroke-width="1.0" vector-effect="non-scaling-stroke" stroke-linecap="round" stroke-linejoin="round"/>
<line x1="556" y1="16" x2="549.6" y2="34.3" stroke="#000" stroke-width="1.0"/>
<path d="M0.02,0.2 C0.1,0.05 0.3,0 0.5,0 C0.8,0 1,0.12 1,0.3 C1,0.5 0.6,0.7 0,1 L1.02,1" transform="translate(588 10.1) scale(4.0 10.2)" fill="none" stroke="#000" stroke-width="1.0" vector-effect="non-scaling-stroke" stroke-linecap="round" stroke-linejoin="round"/>
<line x1="587.9" y1="21.6" x2="572" y2="55.1" stroke="#000" stroke-width="1.0"/>
<path d="M0.05,0.12 C0.2,0.03 0.35,0 0.5,0 C0.8,0 0.95,0.12 0.95,0.25 C0.95,0.4 0.75,0.47 0.42,0.47 C0.8,0.47 1,0.6 1,0.74 C1,0.9 0.8,1 0.5,1 C0.3,1 0.15,0.97 0,0.88" transform="translate(629.4 35.3) scale(4.0 10.2)" fill="none" stroke="#000" stroke-width="1.0" vector-effect="non-scaling-stroke" stroke-linecap="round" stroke-linejoin="round"/>
<line x1="627.8" y1="47.1" x2="611" y2="113" stroke="#000" stroke-width="1.0"/>
<path d="M0.75,1 L0.75,0 L0,0.72 L1,0.72" transform="translate(667.8 47.2) scale(4.0 10.2)" fill="none" stroke="#000" stroke-width="1.0" vector-effect="non-scaling-stroke" stroke-linecap="round" stroke-linejoin="round"/>
<line x1="665.3" y1="59.9" x2="651.5" y2="116" stroke="#000" stroke-width="1.0"/>
<path d="M0.95,0 L0.12,0 L0.05,0.45 C0.2,0.38 0.35,0.36 0.5,0.36 C0.85,0.36 1,0.5 1,0.68 C1,0.88 0.8,1 0.5,1 C0.3,1 0.15,0.97 0,0.9" transform="translate(696.5 66.9) scale(4.0 10.2)" fill="none" stroke="#000" stroke-width="1.0" vector-effect="non-scaling-stroke" stroke-linecap="round" stroke-linejoin="round"/>
<line x1="695" y1="79" x2="676" y2="148" stroke="#000" stroke-width="1.0"/>
<path d="M0.92,0.08 C0.8,0.02 0.65,0 0.55,0 C0.2,0 0,0.3 0,0.6 C0,0.85 0.2,1 0.5,1 C0.8,1 1,0.85 1,0.67 C1,0.48 0.8,0.37 0.52,0.37 C0.25,0.37 0.05,0.48 0,0.6" transform="translate(733.4 80.4) scale(4.0 10.2)" fill="none" stroke="#000" stroke-width="1.0" vector-effect="non-scaling-stroke" stroke-linecap="round" stroke-linejoin="round"/>
<line x1="731.5" y1="92" x2="720.9" y2="123.9" stroke="#000" stroke-width="1.0"/>
<path d="M0,0 L1,0 C0.6,0.35 0.4,0.65 0.3,1" transform="translate(767.3 97.9) scale(4.0 10.2)" fill="none" stroke="#000" stroke-width="1.0" vector-effect="non-scaling-stroke" stroke-linecap="round" stroke-linejoin="round"/>
<line x1="765.8" y1="110" x2="752.9" y2="157.8" stroke="#000" stroke-width="1.0"/>
<path d="M0.5,0.46 C0.2,0.46 0.05,0.36 0.05,0.23 C0.05,0.1 0.25,0 0.5,0 C0.75,0 0.95,0.1 0.95,0.23 C0.95,0.36 0.8,0.46 0.5,0.46 C0.2,0.46 0,0.6 0,0.73 C0,0.88 0.2,1 0.5,1 C0.8,1 1,0.88 1,0.73 C1,0.6 0.8,0.46 0.5,0.46 Z" transform="translate(791.8 117.3) scale(4.0 10.2)" fill="none" stroke="#000" stroke-width="1.0" vector-effect="non-scaling-stroke" stroke-linecap="round" stroke-linejoin="round"/>
<line x1="789.8" y1="128.9" x2="763.2" y2="189.3" stroke="#000" stroke-width="1.0"/>
<path d="M0.08,0.92 C0.2,0.98 0.35,1 0.45,1 C0.8,1 1,0.7 1,0.4 C1,0.15 0.8,0 0.5,0 C0.2,0 0,0.15 0,0.33 C0,0.52 0.2,0.63 0.48,0.63 C0.75,0.63 0.95,0.52 1,0.4" transform="translate(824.2 139.2) scale(4.0 10.2)" fill="none" stroke="#000" stroke-width="1.0" vector-effect="non-scaling-stroke" stroke-linecap="round" stroke-linejoin="round"/>
<line x1="822.7" y1="150.8" x2="799.4" y2="206.8" stroke="#000" stroke-width="1.0"/>
<path d="M0.1,0.22 L0.6,0 L0.6,1" transform="translate(854.4 163.4) scale(4.0 10.2)" fill="none" stroke="#000" stroke-width="1.0" vector-effect="non-scaling-stroke" stroke-linecap="round" stroke-linejoin="round"/>
<path d="M0.5,0 C0.1,0 0,0.3 0,0.5 C0,0.7 0.1,1 0.5,1 C0.9,1 1,0.7 1,0.5 C1,0.3 0.9,0 0.5,0 Z" transform="translate(860 163.4) scale(4.0 10.2)" fill="none" stroke="#000" stroke-width="1.0" vector-effect="non-scaling-stroke" stroke-linecap="round" stroke-linejoin="round"/>
<line x1="859.8" y1="176.1" x2="857.6" y2="226.6" stroke="#000" stroke-width="1.0"/>
<path d="M0.1,0.22 L0.6,0 L0.6,1" transform="translate(704 237.4) scale(4.0 10.2)" fill="none" stroke="#000" stroke-width="1.0" vector-effect="non-scaling-stroke" stroke-linecap="round" stroke-linejoin="round"/>
<path d="M0.1,0.22 L0.6,0 L0.6,1" transform="translate(709.6 237.4) scale(4.0 10.2)" fill="none" stroke="#000" stroke-width="1.0" vector-effect="non-scaling-stroke" stroke-linecap="round" stroke-linejoin="round"/>
<line x1="702.8" y1="235.2" x2="674.3" y2="212.3" stroke="#000" stroke-width="1.0"/>
<path d="M0.75,1 L0.75,0 L0,0.72 L1,0.72" transform="translate(747.2 237.9) scale(4.0 10.2)" fill="none" stroke="#000" stroke-width="1.0" vector-effect="non-scaling-stroke" stroke-linecap="round" stroke-linejoin="round"/>
<path d="M0.92,0.08 C0.8,0.02 0.65,0 0.55,0 C0.2,0 0,0.3 0,0.6 C0,0.85 0.2,1 0.5,1 C0.8,1 1,0.85 1,0.67 C1,0.48 0.8,0.37 0.52,0.37 C0.25,0.37 0.05,0.48 0,0.6" transform="translate(752.8 237.9) scale(4.0 10.2)" fill="none" stroke="#000" stroke-width="1.0" vector-effect="non-scaling-stroke" stroke-linecap="round" stroke-linejoin="round"/>
<line x1="749" y1="236.5" x2="735.7" y2="209" stroke="#000" stroke-width="1.0"/>
<path d="M0.75,1 L0.75,0 L0,0.72 L1,0.72" transform="translate(572.2 168.9) scale(4.0 10.2)" fill="none" stroke="#000" stroke-width="1.0" vector-effect="non-scaling-stroke" stroke-linecap="round" stroke-linejoin="round"/>
<path d="M0,0 L1,0 C0.6,0.35 0.4,0.65 0.3,1" transform="translate(577.8 168.9) scale(4.0 10.2)" fill="none" stroke="#000" stroke-width="1.0" vector-effect="non-scaling-stroke" stroke-linecap="round" stroke-linejoin="round"/>
<line x1="577.5" y1="166.4" x2="581.7" y2="116.1" stroke="#000" stroke-width="1.0"/>
<path d="M0.1,0.22 L0.6,0 L0.6,1" transform="translate(579.2 250.3) scale(4.0 10.2)" fill="none" stroke="#000" stroke-width="1.0" vector-effect="non-scaling-stroke" stroke-linecap="round" stroke-linejoin="round"/>
<path d="M0.02,0.2 C0.1,0.05 0.3,0 0.5,0 C0.8,0 1,0.12 1,0.3 C1,0.5 0.6,0.7 0,1 L1.02,1" transform="translate(584.8 250.3) scale(4.0 10.2)" fill="none" stroke="#000" stroke-width="1.0" vector-effect="non-scaling-stroke" stroke-linecap="round" stroke-linejoin="round"/>
<line x1="578.5" y1="248.4" x2="549" y2="223.5" stroke="#000" stroke-width="1.0"/>
<path d="M0.1,0.22 L0.6,0 L0.6,1" transform="translate(529.8 242.3) scale(4.0 10.2)" fill="none" stroke="#000" stroke-width="1.0" vector-effect="non-scaling-stroke" stroke-linecap="round" stroke-linejoin="round"/>
<path d="M0.05,0.12 C0.2,0.03 0.35,0 0.5,0 C0.8,0 0.95,0.12 0.95,0.25 C0.95,0.4 0.75,0.47 0.42,0.47 C0.8,0.47 1,0.6 1,0.74 C1,0.9 0.8,1 0.5,1 C0.3,1 0.15,0.97 0,0.88" transform="translate(535.4 242.3) scale(4.0 10.2)" fill="none" stroke="#000" stroke-width="1.0" vector-effect="non-scaling-stroke" stroke-linecap="round" stroke-linejoin="round"/>
<line x1="529" y1="240.5" x2="514.7" y2="164.4" stroke="#000" stroke-width="1.0"/>
<path d="M0.1,0.22 L0.6,0 L0.6,1" transform="translate(501.5 240.7) scale(4.0 10.2)" fill="none" stroke="#000" stroke-width="1.0" vector-effect="non-scaling-stroke" stroke-linecap="round" stroke-linejoin="round"/>
<path d="M0.75,1 L0.75,0 L0,0.72 L1,0.72" transform="translate(507.1 240.7) scale(4.0 10.2)" fill="none" stroke="#000" stroke-width="1.0" vector-effect="non-scaling-stroke" stroke-linecap="round" stroke-linejoin="round"/>
<line x1="500.3" y1="239.4" x2="497.9" y2="183.5" stroke="#000" stroke-width="1.0"/>
<path d="M0.1,0.22 L0.6,0 L0.6,1" transform="translate(472.8 240.7) scale(4.0 10.2)" fill="none" stroke="#000" stroke-width="1.0" vector-effect="non-scaling-stroke" stroke-linecap="round" stroke-linejoin="round"/>
<path d="M0.95,0 L0.12,0 L0.05,0.45 C0.2,0.38 0.35,0.36 0.5,0.36 C0.85,0.36 1,0.5 1,0.68 C1,0.88 0.8,1 0.5,1 C0.3,1 0.15,0.97 0,0.9" transform="translate(478.4 240.7) scale(4.0 10.2)" fill="none" stroke="#000" stroke-width="1.0" vector-effect="non-scaling-stroke" stroke-linecap="round" stroke-linejoin="round"/>
<line x1="476.3" y1="239.6" x2="484.3" y2="193.1" stroke="#000" stroke-width="1.0"/>
<path d="M0.1,0.22 L0.6,0 L0.6,1" transform="translate(454 236.3) scale(4.0 10.2)" fill="none" stroke="#000" stroke-width="1.0" vector-effect="non-scaling-stroke" stroke-linecap="round" stroke-linejoin="round"/>
<path d="M0.92,0.08 C0.8,0.02 0.65,0 0.55,0 C0.2,0 0,0.3 0,0.6 C0,0.85 0.2,1 0.5,1 C0.8,1 1,0.85 1,0.67 C1,0.48 0.8,0.37 0.52,0.37 C0.25,0.37 0.05,0.48 0,0.6" transform="translate(459.6 236.3) scale(4.0 10.2)" fill="none" stroke="#000" stroke-width="1.0" vector-effect="non-scaling-stroke" stroke-linecap="round" stroke-linejoin="round"/>
<line x1="462" y1="235.4" x2="470.8" y2="186.7" stroke="#000" stroke-width="1.0"/>
<path d="M0.1,0.22 L0.6,0 L0.6,1" transform="translate(423.6 244.5) scale(4.0 10.2)" fill="none" stroke="#000" stroke-width="1.0" vector-effect="non-scaling-stroke" stroke-linecap="round" stroke-linejoin="round"/>
<path d="M0,0 L1,0 C0.6,0.35 0.4,0.65 0.3,1" transform="translate(429.2 244.5) scale(4.0 10.2)" fill="none" stroke="#000" stroke-width="1.0" vector-effect="non-scaling-stroke" stroke-linecap="round" stroke-linejoin="round"/>
<line x1="422.7" y1="243" x2="386.7" y2="224.5" stroke="#000" stroke-width="1.0"/>
<path d="M0.1,0.22 L0.6,0 L0.6,1" transform="translate(437.4 22.9) scale(4.0 10.2)" fill="none" stroke="#000" stroke-width="1.0" vector-effect="non-scaling-stroke" stroke-linecap="round" stroke-linejoin="round"/>
<path d="M0.5,0.46 C0.2,0.46 0.05,0.36 0.05,0.23 C0.05,0.1 0.25,0 0.5,0 C0.75,0 0.95,0.1 0.95,0.23 C0.95,0.36 0.8,0.46 0.5,0.46 C0.2,0.46 0,0.6 0,0.73 C0,0.88 0.2,1 0.5,1 C0.8,1 1,0.88 1,0.73 C1,0.6 0.8,0.46 0.5,0.46 Z" transform="translate(443 22.9) scale(4.0 10.2)" fill="none" stroke="#000" stroke-width="1.0" vector-effect="non-scaling-stroke" stroke-linecap="round" stroke-linejoin="round"/>
<line x1="440.5" y1="36" x2="448.7" y2="82.3" stroke="#000" stroke-width="1.0"/>
<path d="M0.1,0.22 L0.6,0 L0.6,1" transform="translate(411.4 21.4) scale(4.0 10.2)" fill="none" stroke="#000" stroke-width="1.0" vector-effect="non-scaling-stroke" stroke-linecap="round" stroke-linejoin="round"/>
<path d="M0.08,0.92 C0.2,0.98 0.35,1 0.45,1 C0.8,1 1,0.7 1,0.4 C1,0.15 0.8,0 0.5,0 C0.2,0 0,0.15 0,0.33 C0,0.52 0.2,0.63 0.48,0.63 C0.75,0.63 0.95,0.52 1,0.4" transform="translate(417 21.4) scale(4.0 10.2)" fill="none" stroke="#000" stroke-width="1.0" vector-effect="non-scaling-stroke" stroke-linecap="round" stroke-linejoin="round"/>
<line x1="420.3" y1="37" x2="428" y2="52" stroke="#000" stroke-width="1.0"/>
<path d="M0.02,0.2 C0.1,0.05 0.3,0 0.5,0 C0.8,0 1,0.12 1,0.3 C1,0.5 0.6,0.7 0,1 L1.02,1" transform="translate(369.5 57.2) scale(4.0 10.2)" fill="none" stroke="#000" stroke-width="1.0" vector-effect="non-scaling-stroke" stroke-linecap="round" stroke-linejoin="round"/>
<path d="M0.5,0 C0.1,0 0,0.3 0,0.5 C0,0.7 0.1,1 0.5,1 C0.9,1 1,0.7 1,0.5 C1,0.3 0.9,0 0.5,0 Z" transform="translate(375.1 57.2) scale(4.0 10.2)" fill="none" stroke="#000" stroke-width="1.0" vector-effect="non-scaling-stroke" stroke-linecap="round" stroke-linejoin="round"/>
<line x1="378" y1="68.4" x2="385.7" y2="102.6" stroke="#000" stroke-width="1.0"/>
<path d="M0.02,0.2 C0.1,0.05 0.3,0 0.5,0 C0.8,0 1,0.12 1,0.3 C1,0.5 0.6,0.7 0,1 L1.02,1" transform="translate(338.7 95.1) scale(4.0 10.2)" fill="none" stroke="#000" stroke-width="1.0" vector-effect="non-scaling-stroke" stroke-linecap="round" stroke-linejoin="round"/>
<path d="M0.1,0.22 L0.6,0 L0.6,1" transform="translate(344.3 95.1) scale(4.0 10.2)" fill="none" stroke="#000" stroke-width="1.0" vector-effect="non-scaling-stroke" stroke-linecap="round" stroke-linejoin="round"/>
<line x1="346.8" y1="107.3" x2="359.1" y2="130" stroke="#000" stroke-width="1.0"/>
<path d="M0.02,0.2 C0.1,0.05 0.3,0 0.5,0 C0.8,0 1,0.12 1,0.3 C1,0.5 0.6,0.7 0,1 L1.02,1" transform="translate(306.5 111.7) scale(4.0 10.2)" fill="none" stroke="#000" stroke-width="1.0" vector-effect="non-scaling-stroke" stroke-linecap="round" stroke-linejoin="round"/>
<path d="M0.02,0.2 C0.1,0.05 0.3,0 0.5,0 C0.8,0 1,0.12 1,0.3 C1,0.5 0.6,0.7 0,1 L1.02,1" transform="translate(312.1 111.7) scale(4.0 10.2)" fill="none" stroke="#000" stroke-width="1.0" vector-effect="non-scaling-stroke" stroke-linecap="round" stroke-linejoin="round"/>
<line x1="314.6" y1="123.4" x2="332.6" y2="155.7" stroke="#000" stroke-width="1.0"/>
<path d="M0.02,0.2 C0.1,0.05 0.3,0 0.5,0 C0.8,0 1,0.12 1,0.3 C1,0.5 0.6,0.7 0,1 L1.02,1" transform="translate(275.7 126.4) scale(4.0 10.2)" fill="none" stroke="#000" stroke-width="1.0" vector-effect="non-scaling-stroke" stroke-linecap="round" stroke-linejoin="round"/>
<path d="M0.05,0.12 C0.2,0.03 0.35,0 0.5,0 C0.8,0 0.95,0.12 0.95,0.25 C0.95,0.4 0.75,0.47 0.42,0.47 C0.8,0.47 1,0.6 1,0.74 C1,0.9 0.8,1 0.5,1 C0.3,1 0.15,0.97 0,0.88" transform="translate(281.3 126.4) scale(4.0 10.2)" fill="none" stroke="#000" stroke-width="1.0" vector-effect="non-scaling-stroke" stroke-linecap="round" stroke-linejoin="round"/>
<line x1="284.2" y1="136.7" x2="310.8" y2="168" stroke="#000" stroke-width="1.0"/>
<path d="M0.02,0.2 C0.1,0.05 0.3,0 0.5,0 C0.8,0 1,0.12 1,0.3 C1,0.5 0.6,0.7 0,1 L1.02,1" transform="translate(303.7 212.7) scale(4.0 10.2)" fill="none" stroke="#000" stroke-width="1.0" vector-effect="non-scaling-stroke" stroke-linecap="round" stroke-linejoin="round"/>
<path d="M0.75,1 L0.75,0 L0,0.72 L1,0.72" transform="translate(309.3 212.7) scale(4.0 10.2)" fill="none" stroke="#000" stroke-width="1.0" vector-effect="non-scaling-stroke" stroke-linecap="round" stroke-linejoin="round"/>
<line x1="315.6" y1="215" x2="364" y2="191.3" stroke="#000" stroke-width="1.0"/>
<path d="M0.02,0.2 C0.1,0.05 0.3,0 0.5,0 C0.8,0 1,0.12 1,0.3 C1,0.5 0.6,0.7 0,1 L1.02,1" transform="translate(195.2 104.9) scale(4.0 10.2)" fill="none" stroke="#000" stroke-width="1.0" vector-effect="non-scaling-stroke" stroke-linecap="round" stroke-linejoin="round"/>
<path d="M0.95,0 L0.12,0 L0.05,0.45 C0.2,0.38 0.35,0.36 0.5,0.36 C0.85,0.36 1,0.5 1,0.68 C1,0.88 0.8,1 0.5,1 C0.3,1 0.15,0.97 0,0.9" transform="translate(200.8 104.9) scale(4.0 10.2)" fill="none" stroke="#000" stroke-width="1.0" vector-effect="non-scaling-stroke" stroke-linecap="round" stroke-linejoin="round"/>
<line x1="199.4" y1="116.2" x2="210.6" y2="162.6" stroke="#000" stroke-width="1.0"/>
<path d="M0.02,0.2 C0.1,0.05 0.3,0 0.5,0 C0.8,0 1,0.12 1,0.3 C1,0.5 0.6,0.7 0,1 L1.02,1" transform="translate(152.6 215.5) scale(4.0 10.2)" fill="none" stroke="#000" stroke-width="1.0" vector-effect="non-scaling-stroke" stroke-linecap="round" stroke-linejoin="round"/>
<path d="M0,0 L1,0 C0.6,0.35 0.4,0.65 0.3,1" transform="translate(158.2 215.5) scale(4.0 10.2)" fill="none" stroke="#000" stroke-width="1.0" vector-effect="non-scaling-stroke" stroke-linecap="round" stroke-linejoin="round"/>
<line x1="162.2" y1="223.2" x2="175.7" y2="232.2" stroke="#000" stroke-width="1.0"/>
<path d="M0.02,0.2 C0.1,0.05 0.3,0 0.5,0 C0.8,0 1,0.12 1,0.3 C1,0.5 0.6,0.7 0,1 L1.02,1" transform="translate(154.5 367.9) scale(4.0 10.2)" fill="none" stroke="#000" stroke-width="1.0" vector-effect="non-scaling-stroke" stroke-linecap="round" stroke-linejoin="round"/>
<path d="M0.5,0.46 C0.2,0.46 0.05,0.36 0.05,0.23 C0.05,0.1 0.25,0 0.5,0 C0.75,0 0.95,0.1 0.95,0.23 C0.95,0.36 0.8,0.46 0.5,0.46 C0.2,0.46 0,0.6 0,0.73 C0,0.88 0.2,1 0.5,1 C0.8,1 1,0.88 1,0.73 C1,0.6 0.8,0.46 0.5,0.46 Z" transform="translate(160.1 367.9) scale(4.0 10.2)" fill="none" stroke="#000" stroke-width="1.0" vector-effect="non-scaling-stroke" stroke-linecap="round" stroke-linejoin="round"/>
<line x1="159.7" y1="366.3" x2="179.2" y2="304.2" stroke="#000" stroke-width="1.0"/>
<path d="M0.02,0.2 C0.1,0.05 0.3,0 0.5,0 C0.8,0 1,0.12 1,0.3 C1,0.5 0.6,0.7 0,1 L1.02,1" transform="translate(191.8 379.8) scale(4.0 10.2)" fill="none" stroke="#000" stroke-width="1.0" vector-effect="non-scaling-stroke" stroke-linecap="round" stroke-linejoin="round"/>
<path d="M0.08,0.92 C0.2,0.98 0.35,1 0.45,1 C0.8,1 1,0.7 1,0.4 C1,0.15 0.8,0 0.5,0 C0.2,0 0,0.15 0,0.33 C0,0.52 0.2,0.63 0.48,0.63 C0.75,0.63 0.95,0.52 1,0.4" transform="translate(197.4 379.8) scale(4.0 10.2)" fill="none" stroke="#000" stroke-width="1.0" vector-effect="non-scaling-stroke" stroke-linecap="round" stroke-linejoin="round"/>
<line x1="198.2" y1="378.5" x2="199.5" y2="366" stroke="#000" stroke-width="1.0"/>
<path d="M0.05,0.12 C0.2,0.03 0.35,0 0.5,0 C0.8,0 0.95,0.12 0.95,0.25 C0.95,0.4 0.75,0.47 0.42,0.47 C0.8,0.47 1,0.6 1,0.74 C1,0.9 0.8,1 0.5,1 C0.3,1 0.15,0.97 0,0.88" transform="translate(221.5 388.2) scale(4.0 10.2)" fill="none" stroke="#000" stroke-width="1.0" vector-effect="non-scaling-stroke" stroke-linecap="round" stroke-linejoin="round"/>
<path d="M0.5,0 C0.1,0 0,0.3 0,0.5 C0,0.7 0.1,1 0.5,1 C0.9,1 1,0.7 1,0.5 C1,0.3 0.9,0 0.5,0 Z" transform="translate(227.1 388.2) scale(4.0 10.2)" fill="none" stroke="#000" stroke-width="1.0" vector-effect="non-scaling-stroke" stroke-linecap="round" stroke-linejoin="round"/>
<line x1="225.9" y1="386.5" x2="219.1" y2="317" stroke="#000" stroke-width="1.0"/>
<path d="M0.05,0.12 C0.2,0.03 0.35,0 0.5,0 C0.8,0 0.95,0.12 0.95,0.25 C0.95,0.4 0.75,0.47 0.42,0.47 C0.8,0.47 1,0.6 1,0.74 C1,0.9 0.8,1 0.5,1 C0.3,1 0.15,0.97 0,0.88" transform="translate(248.6 396.3) scale(4.0 10.2)" fill="none" stroke="#000" stroke-width="1.0" vector-effect="non-scaling-stroke" stroke-linecap="round" stroke-linejoin="round"/>
<path d="M0.1,0.22 L0.6,0 L0.6,1" transform="translate(254.2 396.3) scale(4.0 10.2)" fill="none" stroke="#000" stroke-width="1.0" vector-effect="non-scaling-stroke" stroke-linecap="round" stroke-linejoin="round"/>
<line x1="253.9" y1="395" x2="263.4" y2="282" stroke="#000" stroke-width="1.0"/>
<path d="M0.05,0.12 C0.2,0.03 0.35,0 0.5,0 C0.8,0 0.95,0.12 0.95,0.25 C0.95,0.4 0.75,0.47 0.42,0.47 C0.8,0.47 1,0.6 1,0.74 C1,0.9 0.8,1 0.5,1 C0.3,1 0.15,0.97 0,0.88" transform="translate(277.5 398.8) scale(4.0 10.2)" fill="none" stroke="#000" stroke-width="1.0" vector-effect="non-scaling-stroke" stroke-linecap="round" stroke-linejoin="round"/>
<path d="M0.02,0.2 C0.1,0.05 0.3,0 0.5,0 C0.8,0 1,0.12 1,0.3 C1,0.5 0.6,0.7 0,1 L1.02,1" transform="translate(283.1 398.8) scale(4.0 10.2)" fill="none" stroke="#000" stroke-width="1.0" vector-effect="non-scaling-stroke" stroke-linecap="round" stroke-linejoin="round"/>
<line x1="280.2" y1="396.7" x2="267.6" y2="313" stroke="#000" stroke-width="1.0"/>
<path d="M0.05,0.12 C0.2,0.03 0.35,0 0.5,0 C0.8,0 0.95,0.12 0.95,0.25 C0.95,0.4 0.75,0.47 0.42,0.47 C0.8,0.47 1,0.6 1,0.74 C1,0.9 0.8,1 0.5,1 C0.3,1 0.15,0.97 0,0.88" transform="translate(307.7 401.6) scale(4.0 10.2)" fill="none" stroke="#000" stroke-width="1.0" vector-effect="non-scaling-stroke" stroke-linecap="round" stroke-linejoin="round"/>
<path d="M0.05,0.12 C0.2,0.03 0.35,0 0.5,0 C0.8,0 0.95,0.12 0.95,0.25 C0.95,0.4 0.75,0.47 0.42,0.47 C0.8,0.47 1,0.6 1,0.74 C1,0.9 0.8,1 0.5,1 C0.3,1 0.15,0.97 0,0.88" transform="translate(313.3 401.6) scale(4.0 10.2)" fill="none" stroke="#000" stroke-width="1.0" vector-effect="non-scaling-stroke" stroke-linecap="round" stroke-linejoin="round"/>
<line x1="310.9" y1="400.7" x2="305.3" y2="327" stroke="#000" stroke-width="1.0"/>
<path d="M0.05,0.12 C0.2,0.03 0.35,0 0.5,0 C0.8,0 0.95,0.12 0.95,0.25 C0.95,0.4 0.75,0.47 0.42,0.47 C0.8,0.47 1,0.6 1,0.74 C1,0.9 0.8,1 0.5,1 C0.3,1 0.15,0.97 0,0.88" transform="translate(337.4 405.5) scale(4.0 10.2)" fill="none" stroke="#000" stroke-width="1.0" vector-effect="non-scaling-stroke" stroke-linecap="round" stroke-linejoin="round"/>
<path d="M0.75,1 L0.75,0 L0,0.72 L1,0.72" transform="translate(343 405.5) scale(4.0 10.2)" fill="none" stroke="#000" stroke-width="1.0" vector-effect="non-scaling-stroke" stroke-linecap="round" stroke-linejoin="round"/>
<line x1="341.6" y1="403.5" x2="331.8" y2="313" stroke="#000" stroke-width="1.0"/>
<path d="M0.05,0.12 C0.2,0.03 0.35,0 0.5,0 C0.8,0 0.95,0.12 0.95,0.25 C0.95,0.4 0.75,0.47 0.42,0.47 C0.8,0.47 1,0.6 1,0.74 C1,0.9 0.8,1 0.5,1 C0.3,1 0.15,0.97 0,0.88" transform="translate(372.4 408.8) scale(4.0 10.2)" fill="none" stroke="#000" stroke-width="1.0" vector-effect="non-scaling-stroke" stroke-linecap="round" stroke-linejoin="round"/>
<path d="M0.95,0 L0.12,0 L0.05,0.45 C0.2,0.38 0.35,0.36 0.5,0.36 C0.85,0.36 1,0.5 1,0.68 C1,0.88 0.8,1 0.5,1 C0.3,1 0.15,0.97 0,0.9" transform="translate(378 408.8) scale(4.0 10.2)" fill="none" stroke="#000" stroke-width="1.0" vector-effect="non-scaling-stroke" stroke-linecap="round" stroke-linejoin="round"/>
<line x1="375.6" y1="407.3" x2="369.6" y2="341" stroke="#000" stroke-width="1.0"/>
<path d="M0.05,0.12 C0.2,0.03 0.35,0 0.5,0 C0.8,0 0.95,0.12 0.95,0.25 C0.95,0.4 0.75,0.47 0.42,0.47 C0.8,0.47 1,0.6 1,0.74 C1,0.9 0.8,1 0.5,1 C0.3,1 0.15,0.97 0,0.88" transform="translate(404.3 422.5) scale(4.0 10.2)" fill="none" stroke="#000" stroke-width="1.0" vector-effect="non-scaling-stroke" stroke-linecap="round" stroke-linejoin="round"/>
<path d="M0.92,0.08 C0.8,0.02 0.65,0 0.55,0 C0.2,0 0,0.3 0,0.6 C0,0.85 0.2,1 0.5,1 C0.8,1 1,0.85 1,0.67 C1,0.48 0.8,0.37 0.52,0.37 C0.25,0.37 0.05,0.48 0,0.6" transform="translate(409.9 422.5) scale(4.0 10.2)" fill="none" stroke="#000" stroke-width="1.0" vector-effect="non-scaling-stroke" stroke-linecap="round" stroke-linejoin="round"/>
<line x1="410.3" y1="421.6" x2="415.5" y2="369" stroke="#000" stroke-width="1.0"/>
<path d="M0.05,0.12 C0.2,0.03 0.35,0 0.5,0 C0.8,0 0.95,0.12 0.95,0.25 C0.95,0.4 0.75,0.47 0.42,0.47 C0.8,0.47 1,0.6 1,0.74 C1,0.9 0.8,1 0.5,1 C0.3,1 0.15,0.97 0,0.88" transform="translate(424.6 427.4) scale(4.0 10.2)" fill="none" stroke="#000" stroke-width="1.0" vector-effect="non-scaling-stroke" stroke-linecap="round" stroke-linejoin="round"/>
<path d="M0,0 L1,0 C0.6,0.35 0.4,0.65 0.3,1" transform="translate(430.2 427.4) scale(4.0 10.2)" fill="none" stroke="#000" stroke-width="1.0" vector-effect="non-scaling-stroke" stroke-linecap="round" stroke-linejoin="round"/>
<line x1="430.5" y1="426.5" x2="443.5" y2="358" stroke="#000" stroke-width="1.0"/>
<path d="M0.05,0.12 C0.2,0.03 0.35,0 0.5,0 C0.8,0 0.95,0.12 0.95,0.25 C0.95,0.4 0.75,0.47 0.42,0.47 C0.8,0.47 1,0.6 1,0.74 C1,0.9 0.8,1 0.5,1 C0.3,1 0.15,0.97 0,0.88" transform="translate(447.7 434.6) scale(4.0 10.2)" fill="none" stroke="#000" stroke-width="1.0" vector-effect="non-scaling-stroke" stroke-linecap="round" stroke-linejoin="round"/>
<path d="M0.5,0.46 C0.2,0.46 0.05,0.36 0.05,0.23 C0.05,0.1 0.25,0 0.5,0 C0.75,0 0.95,0.1 0.95,0.23 C0.95,0.36 0.8,0.46 0.5,0.46 C0.2,0.46 0,0.6 0,0.73 C0,0.88 0.2,1 0.5,1 C0.8,1 1,0.88 1,0.73 C1,0.6 0.8,0.46 0.5,0.46 Z" transform="translate(453.3 434.6) scale(4.0 10.2)" fill="none" stroke="#000" stroke-width="1.0" vector-effect="non-scaling-stroke" stroke-linecap="round" stroke-linejoin="round"/>
<line x1="452.5" y1="433.7" x2="470" y2="376.6" stroke="#000" stroke-width="1.0"/>
<path d="M0.05,0.12 C0.2,0.03 0.35,0 0.5,0 C0.8,0 0.95,0.12 0.95,0.25 C0.95,0.4 0.75,0.47 0.42,0.47 C0.8,0.47 1,0.6 1,0.74 C1,0.9 0.8,1 0.5,1 C0.3,1 0.15,0.97 0,0.88" transform="translate(479 446.6) scale(4.0 10.2)" fill="none" stroke="#000" stroke-width="1.0" vector-effect="non-scaling-stroke" stroke-linecap="round" stroke-linejoin="round"/>
<path d="M0.08,0.92 C0.2,0.98 0.35,1 0.45,1 C0.8,1 1,0.7 1,0.4 C1,0.15 0.8,0 0.5,0 C0.2,0 0,0.15 0,0.33 C0,0.52 0.2,0.63 0.48,0.63 C0.75,0.63 0.95,0.52 1,0.4" transform="translate(484.6 446.6) scale(4.0 10.2)" fill="none" stroke="#000" stroke-width="1.0" vector-effect="non-scaling-stroke" stroke-linecap="round" stroke-linejoin="round"/>
<line x1="483.2" y1="445" x2="493.8" y2="358" stroke="#000" stroke-width="1.0"/>
<path d="M0.75,1 L0.75,0 L0,0.72 L1,0.72" transform="translate(506 461.3) scale(4.0 10.2)" fill="none" stroke="#000" stroke-width="1.0" vector-effect="non-scaling-stroke" stroke-linecap="round" stroke-linejoin="round"/>
<path d="M0.5,0 C0.1,0 0,0.3 0,0.5 C0,0.7 0.1,1 0.5,1 C0.9,1 1,0.7 1,0.5 C1,0.3 0.9,0 0.5,0 Z" transform="translate(511.6 461.3) scale(4.0 10.2)" fill="none" stroke="#000" stroke-width="1.0" vector-effect="non-scaling-stroke" stroke-linecap="round" stroke-linejoin="round"/>
<line x1="512" y1="459.5" x2="523.9" y2="421.4" stroke="#000" stroke-width="1.0"/>
<path d="M0.75,1 L0.75,0 L0,0.72 L1,0.72" transform="translate(505.5 474) scale(4.0 10.2)" fill="none" stroke="#000" stroke-width="1.0" vector-effect="non-scaling-stroke" stroke-linecap="round" stroke-linejoin="round"/>
<path d="M0.75,1 L0.75,0 L0,0.72 L1,0.72" transform="translate(511.1 474) scale(4.0 10.2)" fill="none" stroke="#000" stroke-width="1.0" vector-effect="non-scaling-stroke" stroke-linecap="round" stroke-linejoin="round"/>
<path d="M0.75,1 L0.75,0 L0,0.72 L1,0.72" transform="translate(505.5 486.4) scale(4.0 10.2)" fill="none" stroke="#000" stroke-width="1.0" vector-effect="non-scaling-stroke" stroke-linecap="round" stroke-linejoin="round"/>
<path d="M0.95,0 L0.12,0 L0.05,0.45 C0.2,0.38 0.35,0.36 0.5,0.36 C0.85,0.36 1,0.5 1,0.68 C1,0.88 0.8,1 0.5,1 C0.3,1 0.15,0.97 0,0.9" transform="translate(511.1 486.4) scale(4.0 10.2)" fill="none" stroke="#000" stroke-width="1.0" vector-effect="non-scaling-stroke" stroke-linecap="round" stroke-linejoin="round"/>
<path d="M0.75,1 L0.75,0 L0,0.72 L1,0.72" transform="translate(617.3 309.2) scale(4.0 10.2)" fill="none" stroke="#000" stroke-width="1.0" vector-effect="non-scaling-stroke" stroke-linecap="round" stroke-linejoin="round"/>
<path d="M0.1,0.22 L0.6,0 L0.6,1" transform="translate(622.9 309.2) scale(4.0 10.2)" fill="none" stroke="#000" stroke-width="1.0" vector-effect="non-scaling-stroke" stroke-linecap="round" stroke-linejoin="round"/>
<line x1="616.1" y1="315.1" x2="568.2" y2="320.7" stroke="#000" stroke-width="1.0"/>
<path d="M0.75,1 L0.75,0 L0,0.72 L1,0.72" transform="translate(626.1 330.4) scale(4.0 10.2)" fill="none" stroke="#000" stroke-width="1.0" vector-effect="non-scaling-stroke" stroke-linecap="round" stroke-linejoin="round"/>
<path d="M0.02,0.2 C0.1,0.05 0.3,0 0.5,0 C0.8,0 1,0.12 1,0.3 C1,0.5 0.6,0.7 0,1 L1.02,1" transform="translate(631.7 330.4) scale(4.0 10.2)" fill="none" stroke="#000" stroke-width="1.0" vector-effect="non-scaling-stroke" stroke-linecap="round" stroke-linejoin="round"/>
<line x1="624.1" y1="336.6" x2="568.2" y2="337.4" stroke="#000" stroke-width="1.0"/>
<path d="M0.75,1 L0.75,0 L0,0.72 L1,0.72" transform="translate(558.2 287.2) scale(4.0 10.2)" fill="none" stroke="#000" stroke-width="1.0" vector-effect="non-scaling-stroke" stroke-linecap="round" stroke-linejoin="round"/>
<path d="M0.05,0.12 C0.2,0.03 0.35,0 0.5,0 C0.8,0 0.95,0.12 0.95,0.25 C0.95,0.4 0.75,0.47 0.42,0.47 C0.8,0.47 1,0.6 1,0.74 C1,0.9 0.8,1 0.5,1 C0.3,1 0.15,0.97 0,0.88" transform="translate(563.8 287.2) scale(4.0 10.2)" fill="none" stroke="#000" stroke-width="1.0" vector-effect="non-scaling-stroke" stroke-linecap="round" stroke-linejoin="round"/>
<line x1="558.7" y1="298.3" x2="541.1" y2="319.1" stroke="#000" stroke-width="1.0"/>
<path d="M0.75,1 L0.75,0 L0,0.72 L1,0.72" transform="translate(627.2 378.6) scale(4.0 10.2)" fill="none" stroke="#000" stroke-width="1.0" vector-effect="non-scaling-stroke" stroke-linecap="round" stroke-linejoin="round"/>
<path d="M0.05,0.12 C0.2,0.03 0.35,0 0.5,0 C0.8,0 0.95,0.12 0.95,0.25 C0.95,0.4 0.75,0.47 0.42,0.47 C0.8,0.47 1,0.6 1,0.74 C1,0.9 0.8,1 0.5,1 C0.3,1 0.15,0.97 0,0.88" transform="translate(632.8 378.6) scale(4.0 10.2)" fill="none" stroke="#000" stroke-width="1.0" vector-effect="non-scaling-stroke" stroke-linecap="round" stroke-linejoin="round"/>
<line x1="625.7" y1="387.5" x2="607.1" y2="398.5" stroke="#000" stroke-width="1.0"/>
<path d="M0.75,1 L0.75,0 L0,0.72 L1,0.72" transform="translate(630.2 395.5) scale(4.0 10.2)" fill="none" stroke="#000" stroke-width="1.0" vector-effect="non-scaling-stroke" stroke-linecap="round" stroke-linejoin="round"/>
<path d="M0.02,0.2 C0.1,0.05 0.3,0 0.5,0 C0.8,0 1,0.12 1,0.3 C1,0.5 0.6,0.7 0,1 L1.02,1" transform="translate(635.8 395.5) scale(4.0 10.2)" fill="none" stroke="#000" stroke-width="1.0" vector-effect="non-scaling-stroke" stroke-linecap="round" stroke-linejoin="round"/>
<line x1="628.3" y1="405.3" x2="582.5" y2="432.5" stroke="#000" stroke-width="1.0"/>
<path d="M0.75,1 L0.75,0 L0,0.72 L1,0.72" transform="translate(637 412.9) scale(4.0 10.2)" fill="none" stroke="#000" stroke-width="1.0" vector-effect="non-scaling-stroke" stroke-linecap="round" stroke-linejoin="round"/>
<path d="M0.1,0.22 L0.6,0 L0.6,1" transform="translate(642.6 412.9) scale(4.0 10.2)" fill="none" stroke="#000" stroke-width="1.0" vector-effect="non-scaling-stroke" stroke-linecap="round" stroke-linejoin="round"/>
<line x1="635.1" y1="421.4" x2="598.6" y2="439.3" stroke="#000" stroke-width="1.0"/>
<path d="M0.08,0.92 C0.2,0.98 0.35,1 0.45,1 C0.8,1 1,0.7 1,0.4 C1,0.15 0.8,0 0.5,0 C0.2,0 0,0.15 0,0.33 C0,0.52 0.2,0.63 0.48,0.63 C0.75,0.63 0.95,0.52 1,0.4" transform="translate(298.8 534.4) scale(5.7 15.2)" fill="none" stroke="#000" stroke-width="1.0" vector-effect="non-scaling-stroke" stroke-linecap="round" stroke-linejoin="round"/>
<path d="M0.5,0 C0.1,0 0,0.3 0,0.5 C0,0.7 0.1,1 0.5,1 C0.9,1 1,0.7 1,0.5 C1,0.3 0.9,0 0.5,0 Z" transform="translate(306.8 534.4) scale(5.7 15.2)" fill="none" stroke="#000" stroke-width="1.0" vector-effect="non-scaling-stroke" stroke-linecap="round" stroke-linejoin="round"/>
<path d="M0.02,0.2 C0.1,0.05 0.3,0 0.5,0 C0.8,0 1,0.12 1,0.3 C1,0.5 0.6,0.7 0,1 L1.02,1" transform="translate(314.8 534.4) scale(5.7 15.2)" fill="none" stroke="#000" stroke-width="1.0" vector-effect="non-scaling-stroke" stroke-linecap="round" stroke-linejoin="round"/>
<path d="M0.08,0.92 C0.2,0.98 0.35,1 0.45,1 C0.8,1 1,0.7 1,0.4 C1,0.15 0.8,0 0.5,0 C0.2,0 0,0.15 0,0.33 C0,0.52 0.2,0.63 0.48,0.63 C0.75,0.63 0.95,0.52 1,0.4" transform="translate(335.2 534.4) scale(5.7 15.2)" fill="none" stroke="#000" stroke-width="1.0" vector-effect="non-scaling-stroke" stroke-linecap="round" stroke-linejoin="round"/>
<path d="M0.5,0 C0.1,0 0,0.3 0,0.5 C0,0.7 0.1,1 0.5,1 C0.9,1 1,0.7 1,0.5 C1,0.3 0.9,0 0.5,0 Z" transform="translate(343.2 534.4) scale(5.7 15.2)" fill="none" stroke="#000" stroke-width="1.0" vector-effect="non-scaling-stroke" stroke-linecap="round" stroke-linejoin="round"/>
<path d="M0.1,0.22 L0.6,0 L0.6,1" transform="translate(351.2 534.4) scale(5.7 15.2)" fill="none" stroke="#000" stroke-width="1.0" vector-effect="non-scaling-stroke" stroke-linecap="round" stroke-linejoin="round"/>
<polyline points="295,554 323.4,554 328.4,562.4 332.4,554 361.3,554 450.6,640.2" fill="none" stroke="#000" stroke-width="1.0" stroke-linejoin="round"/>
<path d="M0.08,0.92 C0.2,0.98 0.35,1 0.45,1 C0.8,1 1,0.7 1,0.4 C1,0.15 0.8,0 0.5,0 C0.2,0 0,0.15 0,0.33 C0,0.52 0.2,0.63 0.48,0.63 C0.75,0.63 0.95,0.52 1,0.4" transform="translate(283.3 604.7) scale(5.7 15.2)" fill="none" stroke="#000" stroke-width="1.0" vector-effect="non-scaling-stroke" stroke-linecap="round" stroke-linejoin="round"/>
<path d="M0.5,0 C0.1,0 0,0.3 0,0.5 C0,0.7 0.1,1 0.5,1 C0.9,1 1,0.7 1,0.5 C1,0.3 0.9,0 0.5,0 Z" transform="translate(291.3 604.7) scale(5.7 15.2)" fill="none" stroke="#000" stroke-width="1.0" vector-effect="non-scaling-stroke" stroke-linecap="round" stroke-linejoin="round"/>
<path d="M0.05,0.12 C0.2,0.03 0.35,0 0.5,0 C0.8,0 0.95,0.12 0.95,0.25 C0.95,0.4 0.75,0.47 0.42,0.47 C0.8,0.47 1,0.6 1,0.74 C1,0.9 0.8,1 0.5,1 C0.3,1 0.15,0.97 0,0.88" transform="translate(299.3 604.7) scale(5.7 15.2)" fill="none" stroke="#000" stroke-width="1.0" vector-effect="non-scaling-stroke" stroke-linecap="round" stroke-linejoin="round"/>
<polyline points="280,624.1 308.4,624.1 390,669.6" fill="none" stroke="#000" stroke-width="1.0" stroke-linejoin="round"/>
<path d="M0.08,0.92 C0.2,0.98 0.35,1 0.45,1 C0.8,1 1,0.7 1,0.4 C1,0.15 0.8,0 0.5,0 C0.2,0 0,0.15 0,0.33 C0,0.52 0.2,0.63 0.48,0.63 C0.75,0.63 0.95,0.52 1,0.4" transform="translate(214.8 754.4) scale(5.7 15.2)" fill="none" stroke="#000" stroke-width="1.0" vector-effect="non-scaling-stroke" stroke-linecap="round" stroke-linejoin="round"/>
<path d="M0.5,0 C0.1,0 0,0.3 0,0.5 C0,0.7 0.1,1 0.5,1 C0.9,1 1,0.7 1,0.5 C1,0.3 0.9,0 0.5,0 Z" transform="translate(222.8 754.4) scale(5.7 15.2)" fill="none" stroke="#000" stroke-width="1.0" vector-effect="non-scaling-stroke" stroke-linecap="round" stroke-linejoin="round"/>
<path d="M0.75,1 L0.75,0 L0,0.72 L1,0.72" transform="translate(230.8 754.4) scale(5.7 15.2)" fill="none" stroke="#000" stroke-width="1.0" vector-effect="non-scaling-stroke" stroke-linecap="round" stroke-linejoin="round"/>
<polyline points="212.5,774 241.6,774 292.1,819" fill="none" stroke="#000" stroke-width="1.0" stroke-linejoin="round"/>
<path d="M0.08,0.92 C0.2,0.98 0.35,1 0.45,1 C0.8,1 1,0.7 1,0.4 C1,0.15 0.8,0 0.5,0 C0.2,0 0,0.15 0,0.33 C0,0.52 0.2,0.63 0.48,0.63 C0.75,0.63 0.95,0.52 1,0.4" transform="translate(294.1 924.4) scale(5.7 15.2)" fill="none" stroke="#000" stroke-width="1.0" vector-effect="non-scaling-stroke" stroke-linecap="round" stroke-linejoin="round"/>
<path d="M0.5,0 C0.1,0 0,0.3 0,0.5 C0,0.7 0.1,1 0.5,1 C0.9,1 1,0.7 1,0.5 C1,0.3 0.9,0 0.5,0 Z" transform="translate(302.1 924.4) scale(5.7 15.2)" fill="none" stroke="#000" stroke-width="1.0" vector-effect="non-scaling-stroke" stroke-linecap="round" stroke-linejoin="round"/>
<path d="M0.95,0 L0.12,0 L0.05,0.45 C0.2,0.38 0.35,0.36 0.5,0.36 C0.85,0.36 1,0.5 1,0.68 C1,0.88 0.8,1 0.5,1 C0.3,1 0.15,0.97 0,0.9" transform="translate(310.1 924.4) scale(5.7 15.2)" fill="none" stroke="#000" stroke-width="1.0" vector-effect="non-scaling-stroke" stroke-linecap="round" stroke-linejoin="round"/>
<polyline points="291.3,943.6 320,943.6 360,883.4" fill="none" stroke="#000" stroke-width="1.0" stroke-linejoin="round"/>
<path d="M0.08,0.92 C0.2,0.98 0.35,1 0.45,1 C0.8,1 1,0.7 1,0.4 C1,0.15 0.8,0 0.5,0 C0.2,0 0,0.15 0,0.33 C0,0.52 0.2,0.63 0.48,0.63 C0.75,0.63 0.95,0.52 1,0.4" transform="translate(259.8 965.3) scale(5.7 15.2)" fill="none" stroke="#000" stroke-width="1.0" vector-effect="non-scaling-stroke" stroke-linecap="round" stroke-linejoin="round"/>
<path d="M0.5,0 C0.1,0 0,0.3 0,0.5 C0,0.7 0.1,1 0.5,1 C0.9,1 1,0.7 1,0.5 C1,0.3 0.9,0 0.5,0 Z" transform="translate(267.8 965.3) scale(5.7 15.2)" fill="none" stroke="#000" stroke-width="1.0" vector-effect="non-scaling-stroke" stroke-linecap="round" stroke-linejoin="round"/>
<path d="M0.92,0.08 C0.8,0.02 0.65,0 0.55,0 C0.2,0 0,0.3 0,0.6 C0,0.85 0.2,1 0.5,1 C0.8,1 1,0.85 1,0.67 C1,0.48 0.8,0.37 0.52,0.37 C0.25,0.37 0.05,0.48 0,0.6" transform="translate(275.8 965.3) scale(5.7 15.2)" fill="none" stroke="#000" stroke-width="1.0" vector-effect="non-scaling-stroke" stroke-linecap="round" stroke-linejoin="round"/>
<path d="M0.08,0.92 C0.2,0.98 0.35,1 0.45,1 C0.8,1 1,0.7 1,0.4 C1,0.15 0.8,0 0.5,0 C0.2,0 0,0.15 0,0.33 C0,0.52 0.2,0.63 0.48,0.63 C0.75,0.63 0.95,0.52 1,0.4" transform="translate(296.5 965.3) scale(5.7 15.2)" fill="none" stroke="#000" stroke-width="1.0" vector-effect="non-scaling-stroke" stroke-linecap="round" stroke-linejoin="round"/>
<path d="M0.5,0 C0.1,0 0,0.3 0,0.5 C0,0.7 0.1,1 0.5,1 C0.9,1 1,0.7 1,0.5 C1,0.3 0.9,0 0.5,0 Z" transform="translate(304.5 965.3) scale(5.7 15.2)" fill="none" stroke="#000" stroke-width="1.0" vector-effect="non-scaling-stroke" stroke-linecap="round" stroke-linejoin="round"/>
<path d="M0,0 L1,0 C0.6,0.35 0.4,0.65 0.3,1" transform="translate(312.5 965.3) scale(5.7 15.2)" fill="none" stroke="#000" stroke-width="1.0" vector-effect="non-scaling-stroke" stroke-linecap="round" stroke-linejoin="round"/>
<path d="M0.08,0.92 C0.2,0.98 0.35,1 0.45,1 C0.8,1 1,0.7 1,0.4 C1,0.15 0.8,0 0.5,0 C0.2,0 0,0.15 0,0.33 C0,0.52 0.2,0.63 0.48,0.63 C0.75,0.63 0.95,0.52 1,0.4" transform="translate(331.5 965.3) scale(5.7 15.2)" fill="none" stroke="#000" stroke-width="1.0" vector-effect="non-scaling-stroke" stroke-linecap="round" stroke-linejoin="round"/>
<path d="M0.5,0 C0.1,0 0,0.3 0,0.5 C0,0.7 0.1,1 0.5,1 C0.9,1 1,0.7 1,0.5 C1,0.3 0.9,0 0.5,0 Z" transform="translate(339.5 965.3) scale(5.7 15.2)" fill="none" stroke="#000" stroke-width="1.0" vector-effect="non-scaling-stroke" stroke-linecap="round" stroke-linejoin="round"/>
<path d="M0.5,0.46 C0.2,0.46 0.05,0.36 0.05,0.23 C0.05,0.1 0.25,0 0.5,0 C0.75,0 0.95,0.1 0.95,0.23 C0.95,0.36 0.8,0.46 0.5,0.46 C0.2,0.46 0,0.6 0,0.73 C0,0.88 0.2,1 0.5,1 C0.8,1 1,0.88 1,0.73 C1,0.6 0.8,0.46 0.5,0.46 Z" transform="translate(347.5 965.3) scale(5.7 15.2)" fill="none" stroke="#000" stroke-width="1.0" vector-effect="non-scaling-stroke" stroke-linecap="round" stroke-linejoin="round"/>
<polyline points="255.7,984.5 285,984.5 287.9,993 291,984.5 321.5,984.5 324.6,993 327.7,984.5 359,984.5 367,929.8" fill="none" stroke="#000" stroke-width="1.0" stroke-linejoin="round"/>
<path d="M0.08,0.92 C0.2,0.98 0.35,1 0.45,1 C0.8,1 1,0.7 1,0.4 C1,0.15 0.8,0 0.5,0 C0.2,0 0,0.15 0,0.33 C0,0.52 0.2,0.63 0.48,0.63 C0.75,0.63 0.95,0.52 1,0.4" transform="translate(436.5 965.3) scale(5.7 15.2)" fill="none" stroke="#000" stroke-width="1.0" vector-effect="non-scaling-stroke" stroke-linecap="round" stroke-linejoin="round"/>
<path d="M0.5,0 C0.1,0 0,0.3 0,0.5 C0,0.7 0.1,1 0.5,1 C0.9,1 1,0.7 1,0.5 C1,0.3 0.9,0 0.5,0 Z" transform="translate(444.5 965.3) scale(5.7 15.2)" fill="none" stroke="#000" stroke-width="1.0" vector-effect="non-scaling-stroke" stroke-linecap="round" stroke-linejoin="round"/>
<path d="M0.08,0.92 C0.2,0.98 0.35,1 0.45,1 C0.8,1 1,0.7 1,0.4 C1,0.15 0.8,0 0.5,0 C0.2,0 0,0.15 0,0.33 C0,0.52 0.2,0.63 0.48,0.63 C0.75,0.63 0.95,0.52 1,0.4" transform="translate(452.5 965.3) scale(5.7 15.2)" fill="none" stroke="#000" stroke-width="1.0" vector-effect="non-scaling-stroke" stroke-linecap="round" stroke-linejoin="round"/>
<polyline points="460,984.5 432.5,984.5 421,935.6" fill="none" stroke="#000" stroke-width="1.0" stroke-linejoin="round"/>
<path d="M0.08,0.92 C0.2,0.98 0.35,1 0.45,1 C0.8,1 1,0.7 1,0.4 C1,0.15 0.8,0 0.5,0 C0.2,0 0,0.15 0,0.33 C0,0.52 0.2,0.63 0.48,0.63 C0.75,0.63 0.95,0.52 1,0.4" transform="translate(754.1 884.4) scale(5.7 15.2)" fill="none" stroke="#000" stroke-width="1.0" vector-effect="non-scaling-stroke" stroke-linecap="round" stroke-linejoin="round"/>
<path d="M0.1,0.22 L0.6,0 L0.6,1" transform="translate(762.1 884.4) scale(5.7 15.2)" fill="none" stroke="#000" stroke-width="1.0" vector-effect="non-scaling-stroke" stroke-linecap="round" stroke-linejoin="round"/>
<path d="M0.5,0 C0.1,0 0,0.3 0,0.5 C0,0.7 0.1,1 0.5,1 C0.9,1 1,0.7 1,0.5 C1,0.3 0.9,0 0.5,0 Z" transform="translate(770.1 884.4) scale(5.7 15.2)" fill="none" stroke="#000" stroke-width="1.0" vector-effect="non-scaling-stroke" stroke-linecap="round" stroke-linejoin="round"/>
<polyline points="778.6,903.1 748.3,903.1 694,880.8" fill="none" stroke="#000" stroke-width="1.0" stroke-linejoin="round"/>
<path d="M0.08,0.92 C0.2,0.98 0.35,1 0.45,1 C0.8,1 1,0.7 1,0.4 C1,0.15 0.8,0 0.5,0 C0.2,0 0,0.15 0,0.33 C0,0.52 0.2,0.63 0.48,0.63 C0.75,0.63 0.95,0.52 1,0.4" transform="translate(842.6 773.4) scale(5.7 15.2)" fill="none" stroke="#000" stroke-width="1.0" vector-effect="non-scaling-stroke" stroke-linecap="round" stroke-linejoin="round"/>
<path d="M0.1,0.22 L0.6,0 L0.6,1" transform="translate(850.6 773.4) scale(5.7 15.2)" fill="none" stroke="#000" stroke-width="1.0" vector-effect="non-scaling-stroke" stroke-linecap="round" stroke-linejoin="round"/>
<path d="M0.1,0.22 L0.6,0 L0.6,1" transform="translate(858.6 773.4) scale(5.7 15.2)" fill="none" stroke="#000" stroke-width="1.0" vector-effect="non-scaling-stroke" stroke-linecap="round" stroke-linejoin="round"/>
<polyline points="866,793.5 838.5,793.5 798.6,758.5" fill="none" stroke="#000" stroke-width="1.0" stroke-linejoin="round"/>
<path d="M0.08,0.92 C0.2,0.98 0.35,1 0.45,1 C0.8,1 1,0.7 1,0.4 C1,0.15 0.8,0 0.5,0 C0.2,0 0,0.15 0,0.33 C0,0.52 0.2,0.63 0.48,0.63 C0.75,0.63 0.95,0.52 1,0.4" transform="translate(759.4 513.9) scale(5.7 15.2)" fill="none" stroke="#000" stroke-width="1.0" vector-effect="non-scaling-stroke" stroke-linecap="round" stroke-linejoin="round"/>
<path d="M0.1,0.22 L0.6,0 L0.6,1" transform="translate(767.4 513.9) scale(5.7 15.2)" fill="none" stroke="#000" stroke-width="1.0" vector-effect="non-scaling-stroke" stroke-linecap="round" stroke-linejoin="round"/>
<path d="M0.02,0.2 C0.1,0.05 0.3,0 0.5,0 C0.8,0 1,0.12 1,0.3 C1,0.5 0.6,0.7 0,1 L1.02,1" transform="translate(775.4 513.9) scale(5.7 15.2)" fill="none" stroke="#000" stroke-width="1.0" vector-effect="non-scaling-stroke" stroke-linecap="round" stroke-linejoin="round"/>
<path d="M0.08,0.92 C0.2,0.98 0.35,1 0.45,1 C0.8,1 1,0.7 1,0.4 C1,0.15 0.8,0 0.5,0 C0.2,0 0,0.15 0,0.33 C0,0.52 0.2,0.63 0.48,0.63 C0.75,0.63 0.95,0.52 1,0.4" transform="translate(796.9 513.9) scale(5.7 15.2)" fill="none" stroke="#000" stroke-width="1.0" vector-effect="non-scaling-stroke" stroke-linecap="round" stroke-linejoin="round"/>
<path d="M0.1,0.22 L0.6,0 L0.6,1" transform="translate(804.9 513.9) scale(5.7 15.2)" fill="none" stroke="#000" stroke-width="1.0" vector-effect="non-scaling-stroke" stroke-linecap="round" stroke-linejoin="round"/>
<path d="M0.05,0.12 C0.2,0.03 0.35,0 0.5,0 C0.8,0 0.95,0.12 0.95,0.25 C0.95,0.4 0.75,0.47 0.42,0.47 C0.8,0.47 1,0.6 1,0.74 C1,0.9 0.8,1 0.5,1 C0.3,1 0.15,0.97 0,0.88" transform="translate(812.9 513.9) scale(5.7 15.2)" fill="none" stroke="#000" stroke-width="1.0" vector-effect="non-scaling-stroke" stroke-linecap="round" stroke-linejoin="round"/>
<polyline points="715.9,548.9 754.9,533.9 785.5,533.9 788.8,542.9 792,533.9 821.7,533.9" fill="none" stroke="#000" stroke-width="1.0" stroke-linejoin="round"/>
<line x1="496.4" y1="294.3" x2="545.9" y2="294.3" stroke="#000" stroke-width="1.0"/>
<line x1="521.1" y1="270.4" x2="521.1" y2="319.9" stroke="#000" stroke-width="1.0"/>
<rect x="518.6" y="291.8" width="5" height="5" fill="none" stroke="#000" stroke-width="0.8"/>
<line x1="325.5" y1="690.5" x2="373.9" y2="690.5" stroke="#000" stroke-width="1.0"/>
<line x1="350.2" y1="666.8" x2="350.2" y2="715.1" stroke="#000" stroke-width="1.0"/>
<rect x="347.7" y="688" width="5" height="5" fill="none" stroke="#000" stroke-width="0.8"/>
</svg></body></html>
